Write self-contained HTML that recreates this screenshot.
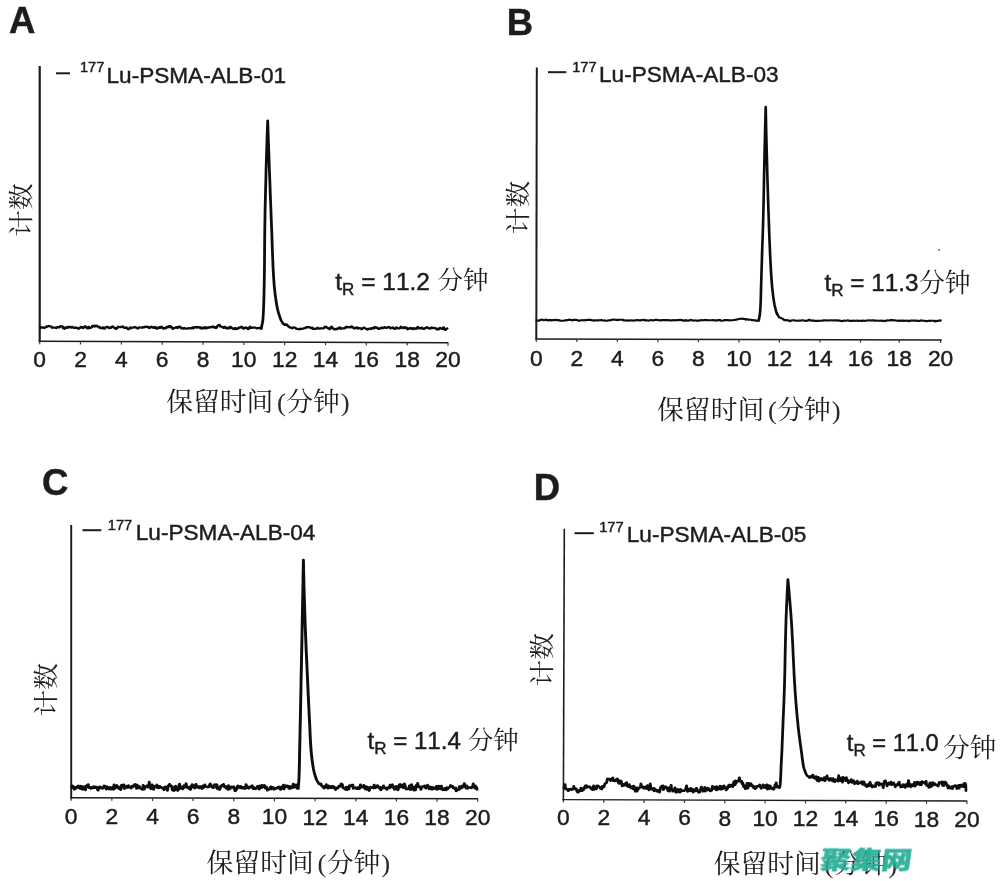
<!DOCTYPE html>
<html lang="zh-CN">
<head>
<meta charset="utf-8">
<title>保留时间 (分钟)</title>
<style>
html,body{margin:0;padding:0;background:#fff;}
body{width:1000px;height:881px;overflow:hidden;position:relative;}
svg{position:absolute;left:0;top:0;display:block;}
text{fill:#1c1c1c;stroke:#1c1c1c;stroke-width:0.45px;font-kerning:none;}
.lat{font-family:"Liberation Sans", "Noto Sans CJK SC", sans-serif;}
.cjk{font-family:"Liberation Serif", "Noto Serif CJK SC", serif;font-weight:400;stroke:none;}
.ttl{font-family:"Liberation Sans", "Noto Sans CJK SC", sans-serif;font-weight:700;font-size:36.5px;}
.tick{font-family:"Liberation Sans", "Noto Sans CJK SC", sans-serif;font-size:22.8px;text-anchor:middle;}
.leg{font-family:"Liberation Sans", "Noto Sans CJK SC", sans-serif;font-size:22.6px;}
.sup{font-family:"Liberation Sans", "Noto Sans CJK SC", sans-serif;font-size:14.6px;}
.tr{font-family:"Liberation Sans", "Noto Sans CJK SC", sans-serif;}
.sub{font-family:"Liberation Sans", "Noto Sans CJK SC", sans-serif;font-size:17px;}
.xl{font-size:26px;text-anchor:middle;}
.par{fill:#2a2a2a;}
.yl{font-size:25.5px;text-anchor:middle;}
.ax{stroke:#1c1c1c;stroke-width:1.45;fill:none;}
.ay{stroke:#1c1c1c;fill:none;}
.tk{stroke:#3a3a3a;stroke-width:1.2;fill:none;}
.tr-line{stroke:#111;fill:none;stroke-linejoin:round;stroke-linecap:round;}
.wm{font-family:"Liberation Sans","Noto Sans CJK SC",sans-serif;font-weight:900;font-size:24px;fill:#2bb098;stroke:#2bb098;stroke-width:0.5px;}
</style>
</head>
<body>
<svg width="1000" height="881" viewBox="0 0 1000 881">
<defs><filter id="soft" x="-2%" y="-2%" width="104%" height="104%"><feGaussianBlur stdDeviation="0.5"/></filter></defs>
<rect width="1000" height="881" fill="#ffffff"/>

<g id="panel-A" filter="url(#soft)">
<text class="ttl" x="9" y="33.2">A</text>
<path class="ay" stroke-width="2.2" d="M39.7,66 L39.7,342.0"/>
<path class="ax" d="M38.7,341.30 L448.3,342.69"/>
<path class="tk" d="M39.7,341.30 v3.0 M80.5,341.44 v3.0 M121.4,341.58 v3.0 M162.2,341.72 v3.0 M203.0,341.86 v3.0 M243.8,341.99 v3.0 M284.7,342.13 v3.0 M325.5,342.27 v3.0 M366.3,342.41 v3.0 M407.2,342.55 v3.0 M448.0,342.69 v3.0 "/>
<text class="tick" x="39.7" y="366.90">0</text>
<text class="tick" x="80.5" y="366.94">2</text>
<text class="tick" x="121.4" y="366.98">4</text>
<text class="tick" x="162.2" y="367.02">6</text>
<text class="tick" x="203.0" y="367.06">8</text>
<text class="tick" x="243.8" y="367.10">10</text>
<text class="tick" x="284.7" y="367.14">12</text>
<text class="tick" x="325.5" y="367.19">14</text>
<text class="tick" x="366.3" y="367.23">16</text>
<text class="tick" x="407.2" y="367.27">18</text>
<text class="tick" x="448.0" y="367.31">20</text>
<path d="M56,73.3 H70" stroke="#1c1c1c" stroke-width="2" fill="none"/>
<text class="sup" x="80" y="72.3">177</text>
<text class="leg" x="106.5" y="82.7">Lu-PSMA-ALB-01</text>
<text class="tr" font-size="24.5" x="335.3" y="289.6">t<tspan class="sub" dy="5.2">R</tspan><tspan dy="-5.2"> = 11.2</tspan><tspan class="cjk" font-size="25.5" dx="7.5" dy="-0.6">分钟</tspan></text>
<text class="cjk xl" transform="translate(258,410.8) scale(1.03,1)" x="0" y="0">保留时间<tspan class="par" dx="-2.8"> (</tspan><tspan dx="0.3">分钟</tspan><tspan class="par" dx="1">)</tspan></text>
<text class="cjk yl" transform="translate(21.0,210) rotate(-90) scale(1.05,1)" x="0" y="9.2">计数</text>
<path class="tr-line" stroke-width="2.2" transform="scale(1.27,1)" d="M31.65,328.0 L32.13,326.9 L32.60,327.7 L33.07,327.3 L33.54,327.6 L34.02,327.4 L34.49,327.8 L34.96,328.0 L35.43,327.5 L35.91,327.3 L36.38,326.9 L36.85,326.3 L37.32,326.7 L37.80,326.3 L38.27,325.9 L38.74,326.1 L39.21,326.1 L39.69,326.5 L40.16,326.5 L40.63,326.8 L41.10,327.8 L41.57,327.6 L42.05,327.7 L42.52,327.6 L42.99,327.6 L43.46,327.6 L43.94,327.7 L44.41,328.0 L44.88,327.5 L45.35,326.8 L45.83,327.4 L46.30,327.1 L46.77,327.4 L47.24,326.5 L47.72,326.1 L48.19,326.4 L48.66,326.5 L49.13,326.4 L49.61,327.6 L50.08,328.4 L50.55,327.5 L51.02,328.8 L51.50,327.9 L51.97,327.8 L52.44,327.6 L52.91,326.9 L53.39,327.8 L53.86,327.4 L54.33,326.8 L54.80,327.0 L55.28,326.9 L55.75,327.4 L56.22,327.7 L56.69,326.8 L57.17,327.2 L57.64,327.4 L58.11,327.8 L58.58,328.0 L59.06,327.4 L59.53,327.4 L60.00,328.0 L60.47,327.8 L60.94,327.9 L61.42,328.5 L61.89,328.9 L62.36,328.2 L62.83,327.7 L63.31,327.8 L63.78,327.0 L64.25,327.4 L64.72,327.0 L65.20,328.1 L65.67,327.7 L66.14,327.6 L66.61,327.4 L67.09,326.2 L67.56,327.0 L68.03,327.5 L68.50,327.4 L68.98,328.4 L69.45,328.3 L69.92,326.9 L70.39,327.6 L70.87,328.1 L71.34,327.9 L71.81,327.4 L72.28,327.1 L72.76,326.0 L73.23,326.3 L73.70,326.4 L74.17,325.6 L74.65,326.6 L75.12,326.3 L75.59,325.7 L76.06,326.1 L76.54,325.9 L77.01,326.7 L77.48,326.6 L77.95,327.4 L78.43,327.0 L78.90,327.9 L79.37,328.1 L79.84,328.2 L80.31,328.3 L80.79,327.4 L81.26,327.4 L81.73,327.7 L82.20,328.7 L82.68,328.1 L83.15,327.3 L83.62,327.3 L84.09,326.8 L84.57,326.8 L85.04,327.1 L85.51,327.8 L85.98,328.1 L86.46,327.7 L86.93,328.0 L87.40,327.7 L87.87,326.9 L88.35,326.8 L88.82,326.5 L89.29,327.0 L89.76,327.7 L90.24,327.9 L90.71,328.5 L91.18,328.1 L91.65,328.9 L92.13,327.9 L92.60,327.5 L93.07,326.6 L93.54,327.0 L94.02,327.1 L94.49,327.1 L94.96,327.2 L95.43,326.7 L95.91,326.9 L96.38,326.8 L96.85,326.5 L97.32,327.5 L97.80,327.8 L98.27,328.0 L98.74,328.0 L99.21,327.3 L99.69,327.6 L100.16,328.2 L100.63,329.1 L101.10,329.2 L101.57,328.9 L102.05,328.6 L102.52,327.5 L102.99,327.8 L103.46,328.1 L103.94,327.5 L104.41,327.5 L104.88,327.6 L105.35,327.3 L105.83,327.3 L106.30,327.1 L106.77,327.2 L107.24,327.9 L107.72,327.8 L108.19,328.2 L108.66,328.5 L109.13,327.7 L109.61,327.4 L110.08,327.4 L110.55,327.5 L111.02,327.6 L111.50,327.6 L111.97,327.8 L112.44,327.0 L112.91,327.1 L113.39,327.4 L113.86,326.9 L114.33,326.6 L114.80,326.7 L115.28,326.9 L115.75,327.1 L116.22,326.7 L116.69,327.0 L117.17,327.8 L117.64,327.5 L118.11,327.9 L118.58,327.3 L119.06,326.7 L119.53,327.1 L120.00,327.1 L120.47,327.7 L120.94,327.1 L121.42,327.9 L121.89,327.6 L122.36,327.0 L122.83,328.3 L123.31,328.7 L123.78,327.9 L124.25,328.5 L124.72,327.5 L125.20,328.0 L125.67,327.2 L126.14,327.8 L126.61,327.0 L127.09,326.6 L127.56,327.5 L128.03,328.2 L128.50,327.8 L128.98,328.7 L129.45,328.4 L129.92,327.9 L130.39,327.9 L130.87,328.1 L131.34,326.9 L131.81,327.1 L132.28,326.8 L132.76,326.2 L133.23,327.2 L133.70,327.1 L134.17,326.0 L134.65,327.0 L135.12,327.1 L135.59,327.9 L136.06,328.9 L136.54,328.4 L137.01,328.1 L137.48,327.9 L137.95,327.5 L138.43,327.6 L138.90,327.1 L139.37,327.2 L139.84,328.1 L140.31,327.2 L140.79,327.1 L141.26,326.5 L141.73,327.0 L142.20,327.0 L142.68,328.4 L143.15,328.0 L143.62,328.5 L144.09,328.3 L144.57,328.8 L145.04,328.0 L145.51,328.5 L145.98,328.3 L146.46,328.5 L146.93,328.7 L147.40,328.6 L147.87,328.6 L148.35,328.1 L148.82,328.4 L149.29,328.3 L149.76,328.0 L150.24,328.0 L150.71,328.0 L151.18,328.5 L151.65,327.4 L152.13,327.6 L152.60,328.1 L153.07,327.1 L153.54,327.2 L154.02,327.1 L154.49,327.3 L154.96,327.8 L155.43,326.9 L155.91,327.4 L156.38,327.5 L156.85,327.1 L157.32,327.2 L157.80,328.3 L158.27,328.1 L158.74,327.7 L159.21,328.6 L159.69,327.7 L160.16,328.4 L160.63,328.2 L161.10,327.2 L161.57,327.3 L162.05,328.3 L162.52,327.7 L162.99,328.2 L163.46,327.3 L163.94,327.9 L164.41,327.6 L164.88,327.3 L165.35,327.1 L165.83,327.5 L166.30,326.8 L166.77,327.1 L167.24,326.7 L167.72,327.1 L168.19,326.5 L168.66,327.5 L169.13,327.0 L169.61,327.2 L170.08,328.1 L170.55,327.6 L171.02,326.3 L171.50,325.5 L171.97,325.4 L172.44,324.8 L172.91,325.1 L173.39,326.4 L173.86,326.6 L174.33,326.8 L174.80,327.0 L175.28,327.3 L175.75,327.8 L176.22,327.4 L176.69,326.7 L177.17,327.0 L177.64,328.2 L178.11,327.8 L178.58,327.6 L179.06,328.5 L179.53,328.3 L180.00,328.3 L180.47,328.3 L180.94,326.9 L181.42,326.8 L181.89,327.4 L182.36,327.8 L182.83,328.2 L183.31,328.7 L183.78,328.7 L184.25,329.0 L184.72,328.1 L185.20,328.0 L185.67,329.0 L186.14,328.3 L186.61,328.9 L187.09,328.8 L187.56,328.2 L188.03,327.6 L188.50,327.8 L188.98,327.5 L189.45,327.2 L189.92,326.7 L190.39,327.3 L190.87,328.0 L191.34,327.7 L191.81,328.7 L192.28,328.4 L192.76,327.9 L193.23,327.4 L193.70,327.8 L194.17,327.8 L194.65,327.8 L195.12,329.1 L195.59,329.1 L196.06,328.4 L196.54,327.3 L197.01,326.6 L197.48,327.8 L197.95,327.7 L198.43,328.0 L198.90,327.8 L199.37,327.4 L199.84,327.7 L200.31,327.7 L200.79,327.6 L201.26,327.7 L201.73,327.9 L202.20,328.4 L202.68,328.1 L203.15,328.2 L203.62,328.1 L204.09,328.0 L204.57,328.0 L205.04,327.4 L205.51,328.9 L205.98,328.2 L205.98,326.5 L206.18,325.5 L206.37,324.5 L206.54,323.5 L206.70,322.5 L206.83,321.5 L206.93,320.5 L207.00,319.5 L207.07,318.5 L207.13,317.5 L207.19,316.5 L207.24,315.5 L207.29,314.5 L207.34,313.5 L207.38,312.5 L207.41,311.5 L207.45,310.5 L207.48,309.5 L207.51,308.5 L207.54,307.5 L207.57,306.5 L207.60,305.5 L207.63,304.5 L207.66,303.5 L207.69,302.5 L207.71,301.5 L207.74,300.5 L207.76,299.5 L207.79,298.5 L207.81,297.5 L207.83,296.5 L207.85,295.5 L207.88,294.5 L207.90,293.5 L207.92,292.5 L207.93,291.5 L207.95,290.5 L207.97,289.5 L207.99,288.5 L208.01,287.5 L208.02,286.5 L208.04,285.5 L208.05,284.5 L208.07,283.5 L208.08,282.5 L208.09,281.5 L208.10,280.5 L208.12,279.5 L208.13,278.5 L208.14,277.5 L208.15,276.5 L208.16,275.5 L208.17,274.5 L208.18,273.5 L208.19,272.5 L208.20,271.5 L208.20,270.5 L208.21,269.5 L208.22,268.5 L208.23,267.5 L208.23,266.5 L208.24,265.5 L208.25,264.5 L208.26,263.5 L208.26,262.5 L208.27,261.5 L208.28,260.5 L208.28,259.5 L208.29,258.5 L208.29,257.5 L208.30,256.5 L208.31,255.5 L208.31,254.5 L208.32,253.5 L208.32,252.5 L208.33,251.5 L208.33,250.5 L208.34,249.5 L208.35,248.5 L208.35,247.5 L208.36,246.5 L208.36,245.5 L208.37,244.5 L208.38,243.5 L208.38,242.5 L208.39,241.5 L208.40,240.5 L208.40,239.5 L208.41,238.5 L208.42,237.5 L208.43,236.5 L208.43,235.5 L208.44,234.5 L208.45,233.5 L208.46,232.5 L208.47,231.5 L208.48,230.5 L208.49,229.5 L208.50,228.5 L208.51,227.5 L208.52,226.5 L208.53,225.5 L208.54,224.5 L208.56,223.5 L208.57,222.5 L208.58,221.5 L208.59,220.5 L208.61,219.5 L208.62,218.5 L208.64,217.5 L208.65,216.5 L208.66,215.5 L208.68,214.5 L208.70,213.5 L208.71,212.5 L208.73,211.5 L208.74,210.5 L208.76,209.5 L208.78,208.5 L208.79,207.5 L208.81,206.5 L208.83,205.5 L208.85,204.5 L208.86,203.5 L208.88,202.5 L208.90,201.5 L208.92,200.5 L208.94,199.5 L208.95,198.5 L208.97,197.5 L208.99,196.5 L209.01,195.5 L209.03,194.5 L209.05,193.5 L209.07,192.5 L209.09,191.5 L209.11,190.5 L209.13,189.5 L209.14,188.5 L209.16,187.5 L209.18,186.5 L209.20,185.5 L209.22,184.5 L209.24,183.5 L209.26,182.5 L209.28,181.5 L209.30,180.5 L209.32,179.5 L209.34,178.5 L209.36,177.5 L209.38,176.5 L209.40,175.5 L209.43,174.5 L209.45,173.5 L209.47,172.5 L209.49,171.5 L209.51,170.5 L209.53,169.5 L209.55,168.5 L209.58,167.5 L209.60,166.5 L209.62,165.5 L209.64,164.5 L209.67,163.5 L209.69,162.5 L209.71,161.5 L209.74,160.5 L209.76,159.5 L209.78,158.5 L209.81,157.5 L209.83,156.5 L209.85,155.5 L209.88,154.5 L209.90,153.5 L209.93,152.5 L209.95,151.5 L209.98,150.5 L210.00,149.5 L210.03,148.5 L210.05,147.5 L210.08,146.5 L210.10,145.5 L210.13,144.5 L210.15,143.5 L210.18,142.5 L210.21,141.5 L210.23,140.5 L210.26,139.5 L210.29,138.5 L210.31,137.5 L210.34,136.5 L210.37,135.5 L210.39,134.5 L210.42,133.5 L210.45,132.5 L210.48,131.5 L210.50,130.5 L210.53,129.5 L210.56,128.5 L210.59,127.5 L210.61,126.5 L210.64,125.5 L210.67,124.5 L210.70,123.5 L210.73,122.5 L210.76,121.5 L210.79,120.5 L210.81,121.5 L210.84,122.5 L210.87,123.5 L210.89,124.5 L210.92,125.5 L210.95,126.5 L210.97,127.5 L211.00,128.5 L211.03,129.5 L211.05,130.5 L211.08,131.5 L211.11,132.5 L211.13,133.5 L211.16,134.5 L211.19,135.5 L211.21,136.5 L211.24,137.5 L211.27,138.5 L211.30,139.5 L211.32,140.5 L211.35,141.5 L211.38,142.5 L211.40,143.5 L211.43,144.5 L211.46,145.5 L211.49,146.5 L211.51,147.5 L211.54,148.5 L211.57,149.5 L211.60,150.5 L211.62,151.5 L211.65,152.5 L211.68,153.5 L211.71,154.5 L211.73,155.5 L211.76,156.5 L211.79,157.5 L211.82,158.5 L211.85,159.5 L211.87,160.5 L211.90,161.5 L211.93,162.5 L211.96,163.5 L211.99,164.5 L212.01,165.5 L212.04,166.5 L212.07,167.5 L212.10,168.5 L212.13,169.5 L212.16,170.5 L212.18,171.5 L212.21,172.5 L212.24,173.5 L212.27,174.5 L212.30,175.5 L212.33,176.5 L212.35,177.5 L212.38,178.5 L212.41,179.5 L212.44,180.5 L212.47,181.5 L212.50,182.5 L212.53,183.5 L212.56,184.5 L212.58,185.5 L212.61,186.5 L212.64,187.5 L212.67,188.5 L212.70,189.5 L212.73,190.5 L212.76,191.5 L212.79,192.5 L212.82,193.5 L212.85,194.5 L212.88,195.5 L212.90,196.5 L212.93,197.5 L212.96,198.5 L212.99,199.5 L213.02,200.5 L213.05,201.5 L213.08,202.5 L213.11,203.5 L213.14,204.5 L213.17,205.5 L213.20,206.5 L213.23,207.5 L213.26,208.5 L213.29,209.5 L213.32,210.5 L213.35,211.5 L213.38,212.5 L213.41,213.5 L213.44,214.5 L213.47,215.5 L213.50,216.5 L213.53,217.5 L213.56,218.5 L213.59,219.5 L213.62,220.5 L213.66,221.5 L213.69,222.5 L213.72,223.5 L213.75,224.5 L213.78,225.5 L213.81,226.5 L213.84,227.5 L213.87,228.5 L213.90,229.5 L213.94,230.5 L213.96,231.5 L213.99,232.5 L214.02,233.5 L214.05,234.5 L214.08,235.5 L214.11,236.5 L214.14,237.5 L214.16,238.5 L214.19,239.5 L214.22,240.5 L214.25,241.5 L214.27,242.5 L214.30,243.5 L214.33,244.5 L214.35,245.5 L214.38,246.5 L214.41,247.5 L214.43,248.5 L214.46,249.5 L214.49,250.5 L214.52,251.5 L214.55,252.5 L214.58,253.5 L214.60,254.5 L214.63,255.5 L214.66,256.5 L214.69,257.5 L214.72,258.5 L214.76,259.5 L214.79,260.5 L214.82,261.5 L214.85,262.5 L214.89,263.5 L214.92,264.5 L214.96,265.5 L215.00,266.5 L215.03,267.5 L215.07,268.5 L215.11,269.5 L215.15,270.5 L215.19,271.5 L215.24,272.5 L215.28,273.5 L215.32,274.5 L215.37,275.5 L215.42,276.5 L215.46,277.5 L215.51,278.5 L215.56,279.5 L215.62,280.5 L215.67,281.5 L215.73,282.5 L215.79,283.5 L215.86,284.5 L215.92,285.5 L216.00,286.5 L216.07,287.5 L216.15,288.5 L216.23,289.5 L216.31,290.5 L216.40,291.5 L216.49,292.5 L216.58,293.5 L216.68,294.5 L216.78,295.5 L216.89,296.5 L216.99,297.5 L217.10,298.5 L217.22,299.5 L217.34,300.5 L217.46,301.5 L217.58,302.5 L217.71,303.5 L217.84,304.5 L217.98,305.5 L218.12,306.5 L218.26,307.5 L218.42,308.5 L218.60,309.5 L218.80,310.5 L219.01,311.5 L219.24,312.5 L219.47,313.5 L219.72,314.5 L219.98,315.5 L220.24,316.5 L220.51,317.5 L220.78,318.5 L221.06,319.5 L221.34,320.5 L221.81,321.4 L222.28,322.4 L222.76,323.4 L223.23,324.1 L223.70,324.5 L224.17,324.8 L224.65,324.2 L225.12,324.8 L225.59,324.5 L226.06,324.8 L226.54,325.6 L227.01,326.2 L227.48,326.8 L227.95,327.3 L228.43,327.6 L228.90,327.3 L229.37,328.0 L229.84,328.0 L230.31,328.4 L230.71,327.6 L231.18,327.4 L231.65,327.4 L232.13,327.6 L232.60,327.9 L233.07,328.4 L233.54,329.0 L234.02,328.9 L234.49,328.8 L234.96,329.2 L235.43,329.1 L235.91,329.3 L236.38,328.7 L236.85,328.8 L237.32,329.0 L237.80,329.0 L238.27,328.7 L238.74,328.5 L239.21,328.3 L239.69,328.1 L240.16,328.1 L240.63,327.7 L241.10,327.1 L241.57,327.6 L242.05,327.0 L242.52,327.0 L242.99,327.1 L243.46,327.0 L243.94,327.5 L244.41,327.8 L244.88,328.1 L245.35,328.1 L245.83,327.6 L246.30,328.9 L246.77,329.0 L247.24,329.0 L247.72,328.6 L248.19,329.1 L248.66,328.8 L249.13,328.6 L249.61,328.5 L250.08,327.7 L250.55,328.5 L251.02,328.7 L251.50,328.4 L251.97,328.6 L252.44,328.5 L252.91,328.2 L253.39,328.5 L253.86,328.5 L254.33,328.5 L254.80,328.0 L255.28,327.9 L255.75,326.8 L256.22,327.3 L256.69,326.8 L257.17,327.1 L257.64,327.7 L258.11,328.1 L258.58,328.6 L259.06,328.8 L259.53,329.2 L260.00,327.9 L260.47,327.8 L260.94,326.6 L261.42,327.2 L261.89,328.2 L262.36,328.5 L262.83,329.1 L263.31,329.4 L263.78,329.0 L264.25,329.5 L264.72,329.3 L265.20,328.7 L265.67,329.1 L266.14,328.4 L266.61,328.5 L267.09,327.5 L267.56,328.3 L268.03,327.7 L268.50,328.8 L268.98,328.4 L269.45,328.3 L269.92,328.3 L270.39,328.4 L270.87,328.5 L271.34,328.4 L271.81,327.6 L272.28,327.2 L272.76,326.7 L273.23,327.3 L273.70,327.3 L274.17,326.9 L274.65,327.1 L275.12,327.4 L275.59,327.3 L276.06,326.9 L276.54,326.8 L277.01,326.3 L277.48,327.5 L277.95,327.1 L278.43,327.9 L278.90,328.2 L279.37,328.6 L279.84,328.1 L280.31,327.7 L280.79,327.7 L281.26,327.3 L281.73,328.6 L282.20,327.9 L282.68,328.1 L283.15,328.3 L283.62,328.5 L284.09,328.3 L284.57,329.1 L285.04,329.1 L285.51,328.0 L285.98,328.0 L286.46,327.5 L286.93,328.1 L287.40,328.3 L287.87,328.5 L288.35,328.9 L288.82,329.0 L289.29,329.6 L289.76,328.9 L290.24,328.9 L290.71,328.9 L291.18,328.6 L291.65,328.3 L292.13,329.0 L292.60,328.2 L293.07,328.2 L293.54,328.1 L294.02,328.6 L294.49,327.9 L294.96,326.9 L295.43,327.6 L295.91,327.9 L296.38,327.8 L296.85,327.5 L297.32,328.3 L297.80,328.8 L298.27,329.0 L298.74,328.7 L299.21,328.1 L299.69,328.3 L300.16,328.0 L300.63,327.4 L301.10,327.9 L301.57,328.2 L302.05,327.7 L302.52,327.3 L302.99,327.2 L303.46,327.6 L303.94,328.0 L304.41,327.7 L304.88,327.8 L305.35,327.3 L305.83,327.1 L306.30,326.9 L306.77,327.4 L307.24,328.2 L307.72,328.4 L308.19,327.8 L308.66,327.7 L309.13,327.3 L309.61,328.1 L310.08,328.1 L310.55,328.7 L311.02,328.9 L311.50,328.5 L311.97,327.4 L312.44,327.6 L312.91,328.1 L313.39,328.3 L313.86,328.3 L314.33,328.5 L314.80,328.3 L315.28,327.8 L315.75,326.7 L316.22,327.2 L316.69,328.0 L317.17,328.2 L317.64,327.5 L318.11,327.4 L318.58,327.1 L319.06,328.1 L319.53,327.4 L320.00,327.6 L320.47,328.2 L320.94,329.3 L321.42,328.5 L321.89,328.9 L322.36,328.5 L322.83,328.2 L323.31,327.9 L323.78,328.7 L324.25,328.3 L324.72,328.8 L325.20,329.1 L325.67,328.1 L326.14,328.3 L326.61,328.7 L327.09,328.5 L327.56,329.0 L328.03,328.6 L328.50,327.4 L328.98,326.9 L329.45,328.0 L329.92,328.2 L330.39,328.5 L330.87,328.3 L331.34,327.9 L331.81,328.3 L332.28,327.7 L332.76,328.7 L333.23,328.4 L333.70,328.8 L334.17,328.8 L334.65,328.2 L335.12,328.1 L335.59,327.7 L336.06,327.1 L336.54,327.6 L337.01,327.9 L337.48,327.9 L337.95,328.7 L338.43,328.5 L338.90,328.5 L339.37,328.0 L339.84,327.5 L340.31,328.1 L340.79,328.0 L341.26,327.9 L341.73,327.8 L342.20,328.0 L342.68,328.4 L343.15,328.6 L343.62,328.4 L344.09,329.5 L344.57,328.9 L345.04,329.4 L345.51,329.2 L345.98,328.9 L346.46,327.8 L346.93,328.5 L347.40,328.4 L347.87,328.8 L348.35,329.0 L348.82,328.1 L349.29,327.3 L349.76,328.8 L350.24,329.7 L350.71,329.9 L351.18,329.1 L351.65,328.8 L352.13,328.5"/>
</g>
<g id="panel-B" filter="url(#soft)">
<text class="ttl" x="506.8" y="35">B</text>
<path class="ay" stroke-width="2.0" d="M536.8,67.5 L536.3,339.59999999999997"/>
<path class="ax" d="M535.3,338.90 L941.8,339.91"/>
<path class="tk" d="M536.3,338.90 v3.0 M576.8,339.00 v3.0 M617.3,339.10 v3.0 M657.9,339.20 v3.0 M698.4,339.31 v3.0 M738.9,339.41 v3.0 M779.4,339.51 v3.0 M819.9,339.61 v3.0 M860.5,339.71 v3.0 M899.2,339.81 v3.0 M940.6,339.91 v3.0 "/>
<text class="tick" x="536.3" y="365.80">0</text>
<text class="tick" x="576.8" y="365.84">2</text>
<text class="tick" x="617.3" y="365.88">4</text>
<text class="tick" x="657.9" y="365.92">6</text>
<text class="tick" x="698.4" y="365.96">8</text>
<text class="tick" x="738.9" y="366.00">10</text>
<text class="tick" x="779.4" y="366.04">12</text>
<text class="tick" x="819.9" y="366.08">14</text>
<text class="tick" x="860.5" y="366.12">16</text>
<text class="tick" x="899.2" y="366.16">18</text>
<text class="tick" x="940.6" y="366.20">20</text>
<path d="M548,72.2 H566.3" stroke="#1c1c1c" stroke-width="2" fill="none"/>
<text class="sup" x="572.2" y="71.9">177</text>
<text class="leg" x="599" y="82.3">Lu-PSMA-ALB-03</text>
<text class="tr" font-size="24.3" x="824.4" y="290.8">t<tspan class="sub" dy="5.2">R</tspan><tspan dy="-5.2"> = 11.3</tspan><tspan class="cjk" font-size="25.8" dx="0.5" dy="1.0">分钟</tspan></text>
<text class="cjk xl" transform="translate(748.9,418.6) scale(1.03,1)" x="0" y="0">保留时间<tspan class="par" dx="-2.8"> (</tspan><tspan dx="0.3">分钟</tspan><tspan class="par" dx="1">)</tspan></text>
<text class="cjk yl" transform="translate(517.8,207.5) rotate(-90) scale(1.05,1)" x="0" y="9.2">计数</text>
<path class="tr-line" stroke-width="2.1" transform="scale(1.27,1)" d="M422.68,320.4 L423.23,320.5 L423.78,320.8 L424.33,320.5 L424.88,320.6 L425.43,320.0 L425.98,319.9 L426.54,319.6 L427.09,319.8 L427.64,320.0 L428.19,320.1 L428.74,320.1 L429.29,319.9 L429.84,319.9 L430.39,319.6 L430.94,320.3 L431.50,320.4 L432.05,320.3 L432.60,319.9 L433.15,320.4 L433.70,320.1 L434.25,320.4 L434.80,320.1 L435.35,320.1 L435.91,320.3 L436.46,320.2 L437.01,319.8 L437.56,319.9 L438.11,320.1 L438.66,319.9 L439.21,320.3 L439.76,320.0 L440.31,320.4 L440.87,320.5 L441.42,320.8 L441.97,320.8 L442.52,320.8 L443.07,320.8 L443.62,320.7 L444.17,320.7 L444.72,320.4 L445.28,320.4 L445.83,320.4 L446.38,320.1 L446.93,320.1 L447.48,319.9 L448.03,319.9 L448.58,319.6 L449.13,319.9 L449.69,320.1 L450.24,320.1 L450.79,320.1 L451.34,320.2 L451.89,319.7 L452.44,319.9 L452.99,319.9 L453.54,319.9 L454.09,319.9 L454.65,320.3 L455.20,320.4 L455.75,320.8 L456.30,320.8 L456.85,320.5 L457.40,320.3 L457.95,320.3 L458.50,320.3 L459.06,320.1 L459.61,320.4 L460.16,320.0 L460.71,320.2 L461.26,320.2 L461.81,320.1 L462.36,319.8 L462.91,319.8 L463.46,319.9 L464.02,320.0 L464.57,319.8 L465.12,319.9 L465.67,320.1 L466.22,320.5 L466.77,320.2 L467.32,320.5 L467.87,320.6 L468.43,320.2 L468.98,320.5 L469.53,320.5 L470.08,320.3 L470.63,320.4 L471.18,320.5 L471.73,320.2 L472.28,320.2 L472.83,320.0 L473.39,320.1 L473.94,320.3 L474.49,320.3 L475.04,320.6 L475.59,320.5 L476.14,320.4 L476.69,320.7 L477.24,320.7 L477.80,320.7 L478.35,320.6 L478.90,320.4 L479.45,320.3 L480.00,320.4 L480.55,320.3 L481.10,320.0 L481.65,319.9 L482.20,319.7 L482.76,319.5 L483.31,319.6 L483.86,319.8 L484.41,319.8 L484.96,319.9 L485.51,319.8 L486.06,320.0 L486.61,320.1 L487.17,319.8 L487.72,319.8 L488.27,319.7 L488.82,319.8 L489.37,319.8 L489.92,319.9 L490.47,319.9 L491.02,320.4 L491.57,320.2 L492.13,320.2 L492.68,320.4 L493.23,320.6 L493.78,320.6 L494.33,320.5 L494.88,320.3 L495.43,320.7 L495.98,320.6 L496.54,320.4 L497.09,320.3 L497.64,320.3 L498.19,320.6 L498.74,320.4 L499.29,320.6 L499.84,320.4 L500.39,320.4 L500.94,320.3 L501.50,320.1 L502.05,320.1 L502.60,320.3 L503.15,320.5 L503.70,320.3 L504.25,320.2 L504.80,320.4 L505.35,320.0 L505.91,320.0 L506.46,319.9 L507.01,320.1 L507.56,319.9 L508.11,320.4 L508.66,320.4 L509.21,320.2 L509.76,320.5 L510.31,320.5 L510.87,320.6 L511.42,320.4 L511.97,320.1 L512.52,320.1 L513.07,320.3 L513.62,320.3 L514.17,320.3 L514.72,320.5 L515.28,320.1 L515.83,319.8 L516.38,319.9 L516.93,319.9 L517.48,319.9 L518.03,320.2 L518.58,320.2 L519.13,320.1 L519.69,320.5 L520.24,320.5 L520.79,320.3 L521.34,320.1 L521.89,320.0 L522.44,320.1 L522.99,320.1 L523.54,320.0 L524.09,320.1 L524.65,320.1 L525.20,320.1 L525.75,320.3 L526.30,320.1 L526.85,320.4 L527.40,320.4 L527.95,320.5 L528.50,320.3 L529.06,320.4 L529.61,320.1 L530.16,320.3 L530.71,320.3 L531.26,320.4 L531.81,320.2 L532.36,320.3 L532.91,320.1 L533.46,320.2 L534.02,320.1 L534.57,320.2 L535.12,319.9 L535.67,320.0 L536.22,320.0 L536.77,319.9 L537.32,320.6 L537.87,320.6 L538.43,320.4 L538.98,320.7 L539.53,320.6 L540.08,320.1 L540.63,320.5 L541.18,320.6 L541.73,320.7 L542.28,320.5 L542.83,320.4 L543.39,320.3 L543.94,319.8 L544.49,320.1 L545.04,320.4 L545.59,320.4 L546.14,320.6 L546.69,320.6 L547.24,320.4 L547.80,320.5 L548.35,320.6 L548.90,320.6 L549.45,320.9 L550.00,320.6 L550.55,320.5 L551.10,320.4 L551.65,320.5 L552.20,320.1 L552.76,320.2 L553.31,320.3 L553.86,320.3 L554.41,320.1 L554.96,319.9 L555.51,320.1 L556.06,320.1 L556.61,320.0 L557.17,320.2 L557.72,320.2 L558.27,320.2 L558.82,320.2 L559.37,320.3 L559.92,320.2 L560.47,320.3 L561.02,320.1 L561.57,320.1 L562.13,320.5 L562.68,320.3 L563.23,320.4 L563.78,320.5 L564.33,320.4 L564.88,320.3 L565.43,320.4 L565.98,319.8 L566.54,320.2 L567.09,320.0 L567.64,320.6 L568.19,320.8 L568.74,320.8 L569.29,320.7 L569.84,320.4 L570.39,320.0 L570.94,320.2 L571.50,320.1 L572.05,320.2 L572.60,320.0 L573.15,320.0 L573.70,320.3 L574.25,320.4 L574.80,320.4 L575.35,320.3 L575.91,320.3 L576.46,320.2 L577.01,320.2 L577.56,320.0 L578.11,320.0 L578.66,319.9 L579.21,319.7 L579.76,319.8 L580.31,319.4 L580.87,319.3 L581.42,319.3 L581.97,319.1 L582.52,318.9 L583.07,318.7 L583.62,318.6 L584.17,318.8 L584.72,318.7 L585.28,319.0 L585.83,318.9 L586.38,319.1 L586.93,319.1 L587.48,319.6 L588.03,319.1 L588.58,319.4 L589.13,319.6 L589.69,319.5 L590.24,319.6 L590.79,319.7 L591.34,319.8 L591.89,320.1 L592.44,320.2 L592.99,320.1 L593.54,320.2 L594.09,320.5 L594.65,320.3 L595.20,320.5 L595.75,320.9 L596.30,320.6 L596.85,320.6 L597.40,320.8 L597.56,319.5 L597.72,318.5 L597.88,317.5 L598.03,316.5 L598.17,315.5 L598.29,314.5 L598.38,313.5 L598.46,312.5 L598.53,311.5 L598.59,310.5 L598.65,309.5 L598.70,308.5 L598.75,307.5 L598.79,306.5 L598.83,305.5 L598.87,304.5 L598.90,303.5 L598.93,302.5 L598.96,301.5 L598.99,300.5 L599.02,299.5 L599.04,298.5 L599.07,297.5 L599.09,296.5 L599.11,295.5 L599.13,294.5 L599.16,293.5 L599.18,292.5 L599.20,291.5 L599.22,290.5 L599.23,289.5 L599.25,288.5 L599.27,287.5 L599.29,286.5 L599.32,285.5 L599.34,284.5 L599.36,283.5 L599.38,282.5 L599.40,281.5 L599.43,280.5 L599.45,279.5 L599.47,278.5 L599.50,277.5 L599.52,276.5 L599.54,275.5 L599.57,274.5 L599.59,273.5 L599.61,272.5 L599.64,271.5 L599.66,270.5 L599.68,269.5 L599.71,268.5 L599.73,267.5 L599.75,266.5 L599.77,265.5 L599.80,264.5 L599.82,263.5 L599.85,262.5 L599.87,261.5 L599.89,260.5 L599.92,259.5 L599.94,258.5 L599.96,257.5 L599.99,256.5 L600.01,255.5 L600.04,254.5 L600.06,253.5 L600.09,252.5 L600.11,251.5 L600.14,250.5 L600.16,249.5 L600.19,248.5 L600.22,247.5 L600.24,246.5 L600.27,245.5 L600.29,244.5 L600.32,243.5 L600.35,242.5 L600.38,241.5 L600.40,240.5 L600.43,239.5 L600.46,238.5 L600.48,237.5 L600.51,236.5 L600.54,235.5 L600.56,234.5 L600.59,233.5 L600.61,232.5 L600.64,231.5 L600.67,230.5 L600.69,229.5 L600.72,228.5 L600.74,227.5 L600.77,226.5 L600.79,225.5 L600.82,224.5 L600.84,223.5 L600.86,222.5 L600.89,221.5 L600.91,220.5 L600.93,219.5 L600.95,218.5 L600.97,217.5 L600.99,216.5 L601.01,215.5 L601.03,214.5 L601.05,213.5 L601.07,212.5 L601.09,211.5 L601.11,210.5 L601.12,209.5 L601.14,208.5 L601.16,207.5 L601.18,206.5 L601.19,205.5 L601.21,204.5 L601.23,203.5 L601.24,202.5 L601.26,201.5 L601.27,200.5 L601.29,199.5 L601.30,198.5 L601.32,197.5 L601.33,196.5 L601.35,195.5 L601.36,194.5 L601.38,193.5 L601.39,192.5 L601.41,191.5 L601.42,190.5 L601.43,189.5 L601.45,188.5 L601.46,187.5 L601.48,186.5 L601.49,185.5 L601.51,184.5 L601.52,183.5 L601.54,182.5 L601.55,181.5 L601.57,180.5 L601.58,179.5 L601.60,178.5 L601.61,177.5 L601.63,176.5 L601.64,175.5 L601.66,174.5 L601.67,173.5 L601.69,172.5 L601.71,171.5 L601.72,170.5 L601.74,169.5 L601.76,168.5 L601.78,167.5 L601.79,166.5 L601.81,165.5 L601.83,164.5 L601.84,163.5 L601.86,162.5 L601.88,161.5 L601.90,160.5 L601.91,159.5 L601.93,158.5 L601.95,157.5 L601.97,156.5 L601.98,155.5 L602.00,154.5 L602.02,153.5 L602.04,152.5 L602.06,151.5 L602.07,150.5 L602.09,149.5 L602.11,148.5 L602.13,147.5 L602.15,146.5 L602.17,145.5 L602.18,144.5 L602.20,143.5 L602.22,142.5 L602.24,141.5 L602.26,140.5 L602.28,139.5 L602.29,138.5 L602.31,137.5 L602.33,136.5 L602.35,135.5 L602.37,134.5 L602.39,133.5 L602.41,132.5 L602.43,131.5 L602.45,130.5 L602.47,129.5 L602.48,128.5 L602.50,127.5 L602.52,126.5 L602.54,125.5 L602.56,124.5 L602.58,123.5 L602.60,122.5 L602.62,121.5 L602.64,120.5 L602.66,119.5 L602.68,118.5 L602.70,117.5 L602.72,116.5 L602.74,115.5 L602.76,114.5 L602.78,113.5 L602.80,112.5 L602.82,111.5 L602.84,110.5 L602.86,109.5 L602.88,108.5 L602.90,107.5 L602.91,106.9 L602.93,107.9 L602.94,108.9 L602.96,109.9 L602.98,110.9 L602.99,111.9 L603.01,112.9 L603.02,113.9 L603.04,114.9 L603.06,115.9 L603.07,116.9 L603.09,117.9 L603.11,118.9 L603.12,119.9 L603.14,120.9 L603.16,121.9 L603.17,122.9 L603.19,123.9 L603.21,124.9 L603.23,125.9 L603.24,126.9 L603.26,127.9 L603.28,128.9 L603.30,129.9 L603.32,130.9 L603.33,131.9 L603.35,132.9 L603.37,133.9 L603.39,134.9 L603.41,135.9 L603.43,136.9 L603.45,137.9 L603.46,138.9 L603.48,139.9 L603.50,140.9 L603.52,141.9 L603.54,142.9 L603.56,143.9 L603.58,144.9 L603.60,145.9 L603.62,146.9 L603.64,147.9 L603.66,148.9 L603.68,149.9 L603.70,150.9 L603.72,151.9 L603.74,152.9 L603.76,153.9 L603.78,154.9 L603.80,155.9 L603.82,156.9 L603.84,157.9 L603.86,158.9 L603.88,159.9 L603.90,160.9 L603.92,161.9 L603.94,162.9 L603.97,163.9 L603.99,164.9 L604.01,165.9 L604.03,166.9 L604.05,167.9 L604.07,168.9 L604.09,169.9 L604.11,170.9 L604.14,171.9 L604.16,172.9 L604.18,173.9 L604.20,174.9 L604.22,175.9 L604.25,176.9 L604.27,177.9 L604.29,178.9 L604.31,179.9 L604.34,180.9 L604.36,181.9 L604.38,182.9 L604.41,183.9 L604.43,184.9 L604.45,185.9 L604.48,186.9 L604.50,187.9 L604.52,188.9 L604.55,189.9 L604.57,190.9 L604.60,191.9 L604.62,192.9 L604.65,193.9 L604.67,194.9 L604.70,195.9 L604.72,196.9 L604.75,197.9 L604.77,198.9 L604.80,199.9 L604.82,200.9 L604.85,201.9 L604.87,202.9 L604.90,203.9 L604.93,204.9 L604.95,205.9 L604.98,206.9 L605.01,207.9 L605.03,208.9 L605.06,209.9 L605.09,210.9 L605.11,211.9 L605.14,212.9 L605.17,213.9 L605.19,214.9 L605.22,215.9 L605.25,216.9 L605.28,217.9 L605.30,218.9 L605.33,219.9 L605.36,220.9 L605.39,221.9 L605.41,222.9 L605.44,223.9 L605.47,224.9 L605.50,225.9 L605.53,226.9 L605.55,227.9 L605.58,228.9 L605.61,229.9 L605.64,230.9 L605.67,231.9 L605.70,232.9 L605.73,233.9 L605.76,234.9 L605.79,235.9 L605.82,236.9 L605.85,237.9 L605.88,238.9 L605.91,239.9 L605.94,240.9 L605.97,241.9 L606.00,242.9 L606.04,243.9 L606.07,244.9 L606.10,245.9 L606.13,246.9 L606.17,247.9 L606.20,248.9 L606.24,249.9 L606.27,250.9 L606.31,251.9 L606.34,252.9 L606.38,253.9 L606.42,254.9 L606.45,255.9 L606.49,256.9 L606.53,257.9 L606.57,258.9 L606.60,259.9 L606.64,260.9 L606.68,261.9 L606.72,262.9 L606.76,263.9 L606.80,264.9 L606.84,265.9 L606.89,266.9 L606.93,267.9 L606.97,268.9 L607.02,269.9 L607.06,270.9 L607.11,271.9 L607.16,272.9 L607.21,273.9 L607.26,274.9 L607.31,275.9 L607.36,276.9 L607.41,277.9 L607.47,278.9 L607.53,279.9 L607.59,280.9 L607.65,281.9 L607.71,282.9 L607.77,283.9 L607.84,284.9 L607.91,285.9 L607.98,286.9 L608.06,287.9 L608.14,288.9 L608.22,289.9 L608.31,290.9 L608.39,291.9 L608.48,292.9 L608.58,293.9 L608.68,294.9 L608.78,295.9 L608.88,296.9 L608.99,297.9 L609.10,298.9 L609.22,299.9 L609.34,300.9 L609.46,301.9 L609.59,302.9 L609.73,303.9 L609.87,304.9 L610.04,305.9 L610.22,306.9 L610.41,307.9 L610.61,308.9 L610.82,309.9 L611.03,310.9 L611.25,311.9 L611.47,312.9 L611.50,313.0 L612.05,314.3 L612.60,315.5 L613.15,316.5 L613.70,317.3 L614.25,317.7 L614.80,318.0 L615.35,318.3 L615.91,318.6 L616.46,318.9 L617.01,319.5 L617.56,320.1 L618.11,320.2 L618.66,320.1 L619.21,320.1 L619.76,320.4 L620.31,320.4 L620.87,320.3 L621.42,320.7 L621.97,321.2 L622.52,320.7 L623.07,320.7 L623.62,320.2 L624.17,320.2 L624.72,320.2 L625.28,320.3 L625.83,320.2 L625.98,320.6 L626.54,320.8 L627.09,320.8 L627.64,320.7 L628.19,320.6 L628.74,320.7 L629.29,320.6 L629.84,320.6 L630.39,320.6 L630.94,320.4 L631.50,320.2 L632.05,320.2 L632.60,320.4 L633.15,320.6 L633.70,320.8 L634.25,320.7 L634.80,320.9 L635.35,320.7 L635.91,320.4 L636.46,320.4 L637.01,319.9 L637.56,319.9 L638.11,320.3 L638.66,320.6 L639.21,320.5 L639.76,320.7 L640.31,320.4 L640.87,320.7 L641.42,320.9 L641.97,320.9 L642.52,321.0 L643.07,320.9 L643.62,320.9 L644.17,320.9 L644.72,321.0 L645.28,320.8 L645.83,320.8 L646.38,320.8 L646.93,320.7 L647.48,320.6 L648.03,320.7 L648.58,320.4 L649.13,320.3 L649.69,320.4 L650.24,320.4 L650.79,320.5 L651.34,320.5 L651.89,320.4 L652.44,320.5 L652.99,320.5 L653.54,320.5 L654.09,320.3 L654.65,320.3 L655.20,320.3 L655.75,320.5 L656.30,320.5 L656.85,320.4 L657.40,320.3 L657.95,320.5 L658.50,320.4 L659.06,320.3 L659.61,320.5 L660.16,320.6 L660.71,320.4 L661.26,320.8 L661.81,320.9 L662.36,320.9 L662.91,321.2 L663.46,321.0 L664.02,320.9 L664.57,320.6 L665.12,320.6 L665.67,320.7 L666.22,320.7 L666.77,320.6 L667.32,320.4 L667.87,320.4 L668.43,320.7 L668.98,320.7 L669.53,321.0 L670.08,321.0 L670.63,320.8 L671.18,320.9 L671.73,320.6 L672.28,320.9 L672.83,320.9 L673.39,320.7 L673.94,320.7 L674.49,320.6 L675.04,320.8 L675.59,320.9 L676.14,320.7 L676.69,320.8 L677.24,320.9 L677.80,320.9 L678.35,320.8 L678.90,320.9 L679.45,320.7 L680.00,320.6 L680.55,320.9 L681.10,320.8 L681.65,320.8 L682.20,320.6 L682.76,320.5 L683.31,320.5 L683.86,320.4 L684.41,320.4 L684.96,320.3 L685.51,320.6 L686.06,320.4 L686.61,320.5 L687.17,320.3 L687.72,320.3 L688.27,320.7 L688.82,320.6 L689.37,320.8 L689.92,320.8 L690.47,320.6 L691.02,320.8 L691.57,320.8 L692.13,320.7 L692.68,320.7 L693.23,320.6 L693.78,320.7 L694.33,321.0 L694.88,320.8 L695.43,320.8 L695.98,320.8 L696.54,321.1 L697.09,321.0 L697.64,320.8 L698.19,320.5 L698.74,320.4 L699.29,320.5 L699.84,320.5 L700.39,320.4 L700.94,320.5 L701.50,320.1 L702.05,319.9 L702.60,320.1 L703.15,320.4 L703.70,320.4 L704.25,320.5 L704.80,320.3 L705.35,320.5 L705.91,320.5 L706.46,320.7 L707.01,320.7 L707.56,321.0 L708.11,320.7 L708.66,320.6 L709.21,320.8 L709.76,321.0 L710.31,320.4 L710.87,320.6 L711.42,320.9 L711.97,321.0 L712.52,320.7 L713.07,320.8 L713.62,320.6 L714.17,320.9 L714.72,320.7 L715.28,320.8 L715.83,321.1 L716.38,320.7 L716.93,320.5 L717.48,320.6 L718.03,320.5 L718.58,320.5 L719.13,320.7 L719.69,320.5 L720.24,320.5 L720.79,320.7 L721.34,320.6 L721.89,320.9 L722.44,320.9 L722.99,320.9 L723.54,320.9 L724.09,320.9 L724.65,320.7 L725.20,320.4 L725.75,320.5 L726.30,320.6 L726.85,320.7 L727.40,320.8 L727.95,320.8 L728.50,321.0 L729.06,321.0 L729.61,321.2 L730.16,321.1 L730.71,320.9 L731.26,320.8 L731.81,320.7 L732.36,321.0 L732.91,320.8 L733.46,320.8 L734.02,320.8 L734.57,320.8 L735.12,320.7 L735.67,320.9 L736.22,321.4 L736.77,320.9 L737.32,321.2 L737.87,320.8 L738.43,320.8 L738.98,320.9 L739.53,320.6 L740.08,320.8 L740.63,320.4"/>
</g>
<g id="panel-C" filter="url(#soft)">
<text class="ttl" x="42" y="495">C</text>
<path class="ay" stroke-width="1.9" d="M71.2,525 L71.2,798.4000000000001"/>
<path class="ax" d="M70.2,797.70 L478.0,798.80"/>
<path class="tk" d="M71.2,797.70 v3.0 M111.8,797.81 v3.0 M152.5,797.92 v3.0 M193.1,798.03 v3.0 M233.8,798.14 v3.0 M274.4,798.25 v3.0 M315.1,798.36 v3.0 M355.8,798.47 v3.0 M396.4,798.58 v3.0 M437.0,798.69 v3.0 M477.7,798.80 v3.0 "/>
<text class="tick" x="71.2" y="823.60">0</text>
<text class="tick" x="111.8" y="823.76">2</text>
<text class="tick" x="152.5" y="823.93">4</text>
<text class="tick" x="193.1" y="824.09">6</text>
<text class="tick" x="233.8" y="824.25">8</text>
<text class="tick" x="274.4" y="824.41">10</text>
<text class="tick" x="315.1" y="824.58">12</text>
<text class="tick" x="355.8" y="824.74">14</text>
<text class="tick" x="396.4" y="824.90">16</text>
<text class="tick" x="437.0" y="825.06">18</text>
<text class="tick" x="477.7" y="825.23">20</text>
<path d="M82.5,530.2 H101.3" stroke="#1c1c1c" stroke-width="2" fill="none"/>
<text class="sup" x="107.8" y="529.9">177</text>
<text class="leg" x="135.8" y="540.3">Lu-PSMA-ALB-04</text>
<text class="tr" font-size="24.1" x="367.5" y="749.0">t<tspan class="sub" dy="5.2">R</tspan><tspan dy="-5.2"> = 11.4</tspan><tspan class="cjk" font-size="25.5" dx="6.8" dy="0.3">分钟</tspan></text>
<text class="cjk xl" transform="translate(298.4,871.7) scale(1.03,1)" x="0" y="0">保留时间<tspan class="par" dx="-2.8"> (</tspan><tspan dx="0.3">分钟</tspan><tspan class="par" dx="1">)</tspan></text>
<text class="cjk yl" transform="translate(45.7,689.7) rotate(-90) scale(1.05,1)" x="0" y="9.2">计数</text>
<path class="tr-line" stroke-width="2.3" transform="scale(1.27,1)" d="M56.46,787.5 L56.89,785.7 L57.32,786.0 L57.76,786.8 L58.19,788.3 L58.62,789.5 L59.06,787.2 L59.49,788.1 L59.92,788.4 L60.35,787.0 L60.79,787.3 L61.22,786.2 L61.65,785.6 L62.09,786.0 L62.52,788.2 L62.95,788.5 L63.39,787.4 L63.82,786.0 L64.25,789.0 L64.69,786.3 L65.12,789.5 L65.55,788.0 L65.98,786.7 L66.42,787.7 L66.85,786.4 L67.28,790.2 L67.72,785.8 L68.15,787.2 L68.58,787.0 L69.02,784.8 L69.45,784.4 L69.88,787.4 L70.31,787.9 L70.75,788.0 L71.18,787.2 L71.61,788.6 L72.05,787.3 L72.48,787.9 L72.91,788.1 L73.35,788.1 L73.78,786.3 L74.21,787.5 L74.65,787.8 L75.08,786.8 L75.51,787.3 L75.94,787.7 L76.38,786.9 L76.81,789.7 L77.24,790.4 L77.68,788.6 L78.11,787.6 L78.54,786.6 L78.98,787.1 L79.41,787.2 L79.84,788.2 L80.28,787.6 L80.71,788.5 L81.14,788.2 L81.57,786.8 L82.01,785.7 L82.44,786.0 L82.87,786.6 L83.31,788.0 L83.74,789.3 L84.17,786.4 L84.61,788.2 L85.04,787.0 L85.47,788.3 L85.91,789.3 L86.34,787.9 L86.77,787.2 L87.20,787.9 L87.64,789.4 L88.07,787.8 L88.50,787.1 L88.94,787.7 L89.37,789.5 L89.80,784.6 L90.24,788.8 L90.67,788.3 L91.10,786.9 L91.54,786.2 L91.97,785.3 L92.40,785.9 L92.83,787.6 L93.27,788.5 L93.70,787.4 L94.13,787.8 L94.57,787.5 L95.00,789.8 L95.43,785.6 L95.87,784.9 L96.30,787.3 L96.73,785.0 L97.17,787.6 L97.60,784.7 L98.03,788.8 L98.46,788.0 L98.90,787.0 L99.33,787.8 L99.76,786.2 L100.20,787.6 L100.63,786.5 L101.06,785.4 L101.50,787.5 L101.93,787.4 L102.36,786.9 L102.80,786.7 L103.23,788.3 L103.66,786.5 L104.09,786.0 L104.53,786.3 L104.96,786.9 L105.39,785.5 L105.83,784.7 L106.26,784.1 L106.69,784.6 L107.13,785.4 L107.56,788.7 L107.99,785.0 L108.43,787.0 L108.86,788.1 L109.29,787.2 L109.72,786.3 L110.16,787.7 L110.59,788.6 L111.02,788.8 L111.46,788.2 L111.89,788.2 L112.32,789.7 L112.76,785.2 L113.19,787.4 L113.62,789.3 L114.06,787.5 L114.49,786.8 L114.92,786.2 L115.35,785.9 L115.79,785.5 L116.22,787.3 L116.65,787.3 L117.09,787.2 L117.52,782.0 L117.95,786.9 L118.39,787.7 L118.82,789.0 L119.25,786.7 L119.69,784.6 L120.12,785.4 L120.55,786.1 L120.98,789.6 L121.42,786.4 L121.85,786.0 L122.28,786.7 L122.72,786.1 L123.15,786.2 L123.58,784.8 L124.02,787.8 L124.45,786.9 L124.88,786.3 L125.31,788.0 L125.75,786.1 L126.18,786.4 L126.61,787.4 L127.05,787.1 L127.48,788.1 L127.91,788.3 L128.35,788.7 L128.78,788.2 L129.21,789.9 L129.65,787.0 L130.08,787.1 L130.51,786.7 L130.94,787.1 L131.38,787.1 L131.81,790.7 L132.24,787.6 L132.68,785.3 L133.11,786.0 L133.54,784.1 L133.98,785.6 L134.41,785.8 L134.84,785.6 L135.28,787.0 L135.71,790.0 L136.14,789.2 L136.57,790.6 L137.01,790.8 L137.44,786.6 L137.87,790.0 L138.31,785.9 L138.74,789.4 L139.17,787.4 L139.61,788.6 L140.04,790.7 L140.47,789.2 L140.91,785.8 L141.34,783.9 L141.77,786.0 L142.20,788.6 L142.64,787.8 L143.07,788.5 L143.50,786.8 L143.94,789.0 L144.37,786.5 L144.80,785.4 L145.24,786.3 L145.67,787.5 L146.10,785.1 L146.54,783.5 L146.97,785.7 L147.40,787.5 L147.83,786.9 L148.27,788.2 L148.70,788.6 L149.13,786.8 L149.57,788.5 L150.00,789.7 L150.43,786.1 L150.87,787.7 L151.30,784.4 L151.73,785.8 L152.17,786.4 L152.60,787.3 L153.03,785.3 L153.46,788.3 L153.90,786.3 L154.33,784.2 L154.76,786.3 L155.20,787.4 L155.63,786.0 L156.06,787.2 L156.50,787.7 L156.93,788.1 L157.36,787.3 L157.80,786.3 L158.23,787.0 L158.66,787.8 L159.09,788.7 L159.53,787.0 L159.96,785.6 L160.39,787.7 L160.83,786.3 L161.26,784.6 L161.69,785.9 L162.13,786.4 L162.56,787.0 L162.99,787.1 L163.43,786.7 L163.86,787.2 L164.29,787.2 L164.72,785.7 L165.16,784.9 L165.59,783.7 L166.02,785.7 L166.46,787.0 L166.89,786.8 L167.32,787.5 L167.76,787.8 L168.19,785.5 L168.62,786.5 L169.06,784.4 L169.49,787.3 L169.92,785.3 L170.35,786.5 L170.79,784.5 L171.22,789.0 L171.65,788.4 L172.09,787.2 L172.52,788.3 L172.95,789.7 L173.39,788.4 L173.82,785.9 L174.25,786.6 L174.69,785.3 L175.12,786.0 L175.55,785.8 L175.98,784.2 L176.42,786.4 L176.85,787.1 L177.28,787.3 L177.72,786.3 L178.15,788.4 L178.58,788.5 L179.02,788.3 L179.45,789.6 L179.88,785.3 L180.31,789.2 L180.75,789.2 L181.18,787.3 L181.61,788.3 L182.05,786.7 L182.48,787.3 L182.91,787.5 L183.35,786.7 L183.78,788.0 L184.21,786.7 L184.65,788.8 L185.08,790.9 L185.51,790.8 L185.94,788.1 L186.38,789.4 L186.81,787.6 L187.24,785.7 L187.68,786.4 L188.11,787.3 L188.54,787.5 L188.98,787.9 L189.41,786.1 L189.84,786.5 L190.28,788.3 L190.71,787.4 L191.14,787.6 L191.57,787.1 L192.01,788.3 L192.44,788.7 L192.87,787.0 L193.31,788.5 L193.74,784.5 L194.17,786.5 L194.61,786.1 L195.04,787.9 L195.47,788.1 L195.91,788.5 L196.34,787.8 L196.77,787.1 L197.20,786.7 L197.64,786.7 L198.07,785.9 L198.50,785.5 L198.94,788.3 L199.37,788.7 L199.80,787.0 L200.24,788.8 L200.67,787.7 L201.10,788.5 L201.54,789.0 L201.97,788.3 L202.40,787.7 L202.83,786.1 L203.27,788.0 L203.70,788.1 L204.13,789.3 L204.57,785.7 L205.00,787.4 L205.43,787.2 L205.87,787.9 L206.30,785.1 L206.73,787.4 L207.17,786.0 L207.60,785.7 L208.03,785.1 L208.46,785.9 L208.90,788.4 L209.33,787.6 L209.76,786.9 L210.20,788.6 L210.63,790.4 L211.06,789.6 L211.50,789.4 L211.93,789.3 L212.36,788.9 L212.80,787.4 L213.23,786.6 L213.66,789.2 L214.09,787.8 L214.53,788.1 L214.96,787.3 L215.39,788.4 L215.83,789.5 L216.26,788.0 L216.69,788.7 L217.13,788.3 L217.56,788.6 L217.99,787.7 L218.43,787.7 L218.86,787.0 L219.29,787.5 L219.72,786.8 L220.16,788.7 L220.59,787.9 L221.02,789.7 L221.46,787.1 L221.89,786.7 L222.32,788.5 L222.76,787.6 L223.19,784.9 L223.62,789.1 L224.06,786.2 L224.49,787.5 L224.92,785.5 L225.35,786.3 L225.79,786.9 L226.22,785.6 L226.65,786.9 L227.09,787.4 L227.52,788.6 L227.95,786.1 L228.39,788.7 L228.82,787.7 L229.25,788.1 L229.69,788.1 L230.12,787.0 L230.55,785.3 L230.98,783.9 L231.42,787.5 L231.85,787.4 L232.28,786.8 L232.72,786.0 L233.15,784.7 L233.58,785.6 L234.02,788.6 L234.45,785.5 L234.88,788.7 L234.96,786.0 L235.03,785.0 L235.10,784.0 L235.17,783.0 L235.23,782.0 L235.28,781.0 L235.33,780.0 L235.37,779.0 L235.41,778.0 L235.45,777.0 L235.48,776.0 L235.51,775.0 L235.54,774.0 L235.57,773.0 L235.59,772.0 L235.62,771.0 L235.64,770.0 L235.66,769.0 L235.68,768.0 L235.70,767.0 L235.72,766.0 L235.74,765.0 L235.75,764.0 L235.77,763.0 L235.79,762.0 L235.80,761.0 L235.81,760.0 L235.83,759.0 L235.84,758.0 L235.86,757.0 L235.87,756.0 L235.88,755.0 L235.90,754.0 L235.91,753.0 L235.92,752.0 L235.94,751.0 L235.95,750.0 L235.97,749.0 L235.98,748.0 L236.00,747.0 L236.02,746.0 L236.03,745.0 L236.05,744.0 L236.07,743.0 L236.09,742.0 L236.10,741.0 L236.12,740.0 L236.14,739.0 L236.16,738.0 L236.17,737.0 L236.19,736.0 L236.21,735.0 L236.23,734.0 L236.25,733.0 L236.27,732.0 L236.28,731.0 L236.30,730.0 L236.32,729.0 L236.34,728.0 L236.35,727.0 L236.37,726.0 L236.39,725.0 L236.41,724.0 L236.42,723.0 L236.44,722.0 L236.46,721.0 L236.47,720.0 L236.49,719.0 L236.51,718.0 L236.52,717.0 L236.54,716.0 L236.55,715.0 L236.57,714.0 L236.58,713.0 L236.60,712.0 L236.62,711.0 L236.63,710.0 L236.65,709.0 L236.66,708.0 L236.68,707.0 L236.69,706.0 L236.71,705.0 L236.72,704.0 L236.74,703.0 L236.75,702.0 L236.77,701.0 L236.78,700.0 L236.80,699.0 L236.81,698.0 L236.83,697.0 L236.84,696.0 L236.86,695.0 L236.87,694.0 L236.89,693.0 L236.90,692.0 L236.92,691.0 L236.93,690.0 L236.95,689.0 L236.96,688.0 L236.98,687.0 L236.99,686.0 L237.01,685.0 L237.02,684.0 L237.04,683.0 L237.06,682.0 L237.07,681.0 L237.09,680.0 L237.10,679.0 L237.12,678.0 L237.13,677.0 L237.15,676.0 L237.16,675.0 L237.18,674.0 L237.20,673.0 L237.21,672.0 L237.23,671.0 L237.24,670.0 L237.26,669.0 L237.28,668.0 L237.29,667.0 L237.31,666.0 L237.32,665.0 L237.34,664.0 L237.36,663.0 L237.37,662.0 L237.39,661.0 L237.40,660.0 L237.42,659.0 L237.43,658.0 L237.45,657.0 L237.47,656.0 L237.48,655.0 L237.50,654.0 L237.51,653.0 L237.53,652.0 L237.55,651.0 L237.56,650.0 L237.58,649.0 L237.59,648.0 L237.61,647.0 L237.62,646.0 L237.64,645.0 L237.65,644.0 L237.67,643.0 L237.69,642.0 L237.70,641.0 L237.72,640.0 L237.73,639.0 L237.75,638.0 L237.76,637.0 L237.78,636.0 L237.79,635.0 L237.81,634.0 L237.82,633.0 L237.84,632.0 L237.85,631.0 L237.87,630.0 L237.88,629.0 L237.90,628.0 L237.91,627.0 L237.93,626.0 L237.94,625.0 L237.96,624.0 L237.97,623.0 L237.99,622.0 L238.00,621.0 L238.02,620.0 L238.04,619.0 L238.05,618.0 L238.07,617.0 L238.08,616.0 L238.10,615.0 L238.11,614.0 L238.13,613.0 L238.14,612.0 L238.16,611.0 L238.17,610.0 L238.18,609.0 L238.20,608.0 L238.21,607.0 L238.23,606.0 L238.24,605.0 L238.26,604.0 L238.27,603.0 L238.29,602.0 L238.30,601.0 L238.32,600.0 L238.33,599.0 L238.35,598.0 L238.36,597.0 L238.38,596.0 L238.39,595.0 L238.41,594.0 L238.42,593.0 L238.44,592.0 L238.45,591.0 L238.47,590.0 L238.48,589.0 L238.49,588.0 L238.51,587.0 L238.52,586.0 L238.54,585.0 L238.55,584.0 L238.57,583.0 L238.58,582.0 L238.60,581.0 L238.61,580.0 L238.63,579.0 L238.64,578.0 L238.65,577.0 L238.67,576.0 L238.68,575.0 L238.70,574.0 L238.71,573.0 L238.73,572.0 L238.74,571.0 L238.75,570.0 L238.77,569.0 L238.78,568.0 L238.80,567.0 L238.81,566.0 L238.83,565.0 L238.84,564.0 L238.85,563.0 L238.87,562.0 L238.88,561.0 L238.90,560.0 L238.90,559.9 L238.91,560.9 L238.93,561.9 L238.94,562.9 L238.96,563.9 L238.98,564.9 L238.99,565.9 L239.01,566.9 L239.03,567.9 L239.04,568.9 L239.06,569.9 L239.08,570.9 L239.10,571.9 L239.11,572.9 L239.13,573.9 L239.15,574.9 L239.17,575.9 L239.19,576.9 L239.21,577.9 L239.23,578.9 L239.25,579.9 L239.27,580.9 L239.29,581.9 L239.31,582.9 L239.33,583.9 L239.35,584.9 L239.37,585.9 L239.39,586.9 L239.41,587.9 L239.43,588.9 L239.45,589.9 L239.48,590.9 L239.50,591.9 L239.52,592.9 L239.54,593.9 L239.57,594.9 L239.59,595.9 L239.61,596.9 L239.63,597.9 L239.66,598.9 L239.68,599.9 L239.70,600.9 L239.73,601.9 L239.75,602.9 L239.78,603.9 L239.80,604.9 L239.83,605.9 L239.85,606.9 L239.87,607.9 L239.90,608.9 L239.92,609.9 L239.95,610.9 L239.97,611.9 L240.00,612.9 L240.02,613.9 L240.05,614.9 L240.08,615.9 L240.10,616.9 L240.13,617.9 L240.15,618.9 L240.18,619.9 L240.21,620.9 L240.23,621.9 L240.26,622.9 L240.29,623.9 L240.31,624.9 L240.34,625.9 L240.37,626.9 L240.39,627.9 L240.42,628.9 L240.45,629.9 L240.48,630.9 L240.51,631.9 L240.54,632.9 L240.57,633.9 L240.60,634.9 L240.63,635.9 L240.66,636.9 L240.70,637.9 L240.73,638.9 L240.76,639.9 L240.79,640.9 L240.83,641.9 L240.86,642.9 L240.89,643.9 L240.93,644.9 L240.96,645.9 L241.00,646.9 L241.03,647.9 L241.07,648.9 L241.10,649.9 L241.14,650.9 L241.17,651.9 L241.21,652.9 L241.24,653.9 L241.28,654.9 L241.31,655.9 L241.35,656.9 L241.39,657.9 L241.42,658.9 L241.46,659.9 L241.49,660.9 L241.53,661.9 L241.57,662.9 L241.60,663.9 L241.64,664.9 L241.67,665.9 L241.71,666.9 L241.74,667.9 L241.78,668.9 L241.82,669.9 L241.85,670.9 L241.89,671.9 L241.92,672.9 L241.96,673.9 L241.99,674.9 L242.03,675.9 L242.06,676.9 L242.10,677.9 L242.13,678.9 L242.17,679.9 L242.21,680.9 L242.24,681.9 L242.28,682.9 L242.31,683.9 L242.35,684.9 L242.38,685.9 L242.42,686.9 L242.46,687.9 L242.49,688.9 L242.53,689.9 L242.57,690.9 L242.60,691.9 L242.64,692.9 L242.68,693.9 L242.71,694.9 L242.75,695.9 L242.79,696.9 L242.82,697.9 L242.86,698.9 L242.90,699.9 L242.93,700.9 L242.97,701.9 L243.01,702.9 L243.05,703.9 L243.08,704.9 L243.12,705.9 L243.16,706.9 L243.20,707.9 L243.24,708.9 L243.27,709.9 L243.31,710.9 L243.35,711.9 L243.39,712.9 L243.43,713.9 L243.46,714.9 L243.50,715.9 L243.54,716.9 L243.58,717.9 L243.62,718.9 L243.66,719.9 L243.70,720.9 L243.74,721.9 L243.77,722.9 L243.81,723.9 L243.85,724.9 L243.88,725.9 L243.92,726.9 L243.95,727.9 L243.99,728.9 L244.02,729.9 L244.06,730.9 L244.09,731.9 L244.13,732.9 L244.16,733.9 L244.20,734.9 L244.24,735.9 L244.28,736.9 L244.32,737.9 L244.36,738.9 L244.40,739.9 L244.44,740.9 L244.49,741.9 L244.53,742.9 L244.58,743.9 L244.63,744.9 L244.69,745.9 L244.74,746.9 L244.80,747.9 L244.86,748.9 L244.92,749.9 L244.99,750.9 L245.05,751.9 L245.13,752.9 L245.20,753.9 L245.28,754.9 L245.37,755.9 L245.45,756.9 L245.54,757.9 L245.64,758.9 L245.74,759.9 L245.84,760.9 L245.95,761.9 L246.06,762.9 L246.17,763.9 L246.29,764.9 L246.42,765.9 L246.54,766.9 L246.68,767.9 L246.81,768.9 L246.97,769.9 L247.14,770.9 L247.33,771.9 L247.54,772.9 L247.75,773.9 L247.98,774.9 L248.22,775.9 L248.47,776.9 L248.72,777.9 L248.98,778.9 L249.13,779.5 L249.57,780.5 L250.00,781.3 L250.43,782.4 L250.87,782.9 L251.30,784.2 L251.73,784.1 L252.17,783.9 L252.60,783.7 L253.03,785.6 L253.46,785.4 L253.90,786.2 L254.33,787.4 L254.76,787.3 L255.20,788.3 L255.63,786.3 L256.06,786.1 L256.50,787.5 L256.93,784.5 L257.36,786.5 L257.80,785.7 L258.23,788.4 L258.27,787.4 L258.70,785.6 L259.13,786.7 L259.57,786.2 L260.00,786.9 L260.43,788.0 L260.87,786.2 L261.30,787.7 L261.73,786.4 L262.17,786.1 L262.60,786.5 L263.03,788.1 L263.46,787.7 L263.90,787.5 L264.33,789.8 L264.76,787.8 L265.20,788.4 L265.63,787.7 L266.06,788.0 L266.50,786.9 L266.93,785.9 L267.36,786.7 L267.80,786.6 L268.23,786.5 L268.66,783.6 L269.09,785.7 L269.53,784.3 L269.96,787.3 L270.39,788.2 L270.83,787.6 L271.26,788.2 L271.69,788.0 L272.13,789.7 L272.56,786.9 L272.99,787.8 L273.43,789.8 L273.86,787.1 L274.29,787.4 L274.72,789.1 L275.16,785.3 L275.59,785.7 L276.02,785.5 L276.46,786.0 L276.89,785.0 L277.32,786.0 L277.76,784.9 L278.19,788.7 L278.62,787.5 L279.06,788.0 L279.49,787.4 L279.92,788.3 L280.35,787.9 L280.79,788.7 L281.22,787.5 L281.65,787.3 L282.09,788.9 L282.52,788.4 L282.95,788.9 L283.39,787.8 L283.82,784.6 L284.25,786.9 L284.69,787.3 L285.12,786.7 L285.55,787.4 L285.98,787.5 L286.42,785.1 L286.85,786.8 L287.28,787.4 L287.72,789.1 L288.15,786.4 L288.58,786.5 L289.02,789.5 L289.45,787.1 L289.88,789.9 L290.31,789.7 L290.75,790.7 L291.18,787.6 L291.61,787.0 L292.05,787.8 L292.48,787.8 L292.91,787.2 L293.35,786.9 L293.78,787.7 L294.21,788.2 L294.65,784.8 L295.08,787.6 L295.51,788.0 L295.94,787.5 L296.38,787.2 L296.81,787.3 L297.24,785.3 L297.68,787.2 L298.11,787.1 L298.54,787.5 L298.98,788.5 L299.41,787.0 L299.84,790.0 L300.28,788.9 L300.71,788.7 L301.14,788.2 L301.57,787.7 L302.01,785.6 L302.44,788.1 L302.87,787.6 L303.31,787.8 L303.74,788.5 L304.17,787.8 L304.61,789.6 L305.04,788.6 L305.47,788.2 L305.91,787.9 L306.34,786.7 L306.77,788.1 L307.20,784.9 L307.64,787.3 L308.07,786.6 L308.50,784.9 L308.94,784.5 L309.37,787.3 L309.80,786.6 L310.24,788.3 L310.67,789.5 L311.10,789.1 L311.54,786.7 L311.97,786.1 L312.40,788.5 L312.83,789.2 L313.27,790.0 L313.70,788.8 L314.13,786.1 L314.57,784.5 L315.00,784.3 L315.43,787.1 L315.87,786.3 L316.30,787.1 L316.73,786.8 L317.17,784.7 L317.60,787.8 L318.03,785.4 L318.46,783.7 L318.90,785.6 L319.33,787.4 L319.76,789.1 L320.20,788.8 L320.63,789.0 L321.06,789.0 L321.50,788.7 L321.93,788.5 L322.36,785.6 L322.80,786.0 L323.23,789.8 L323.66,785.2 L324.09,784.4 L324.53,786.6 L324.96,787.2 L325.39,787.4 L325.83,790.4 L326.26,789.6 L326.69,786.9 L327.13,790.2 L327.56,785.5 L327.99,787.3 L328.43,785.7 L328.86,783.2 L329.29,786.0 L329.72,787.1 L330.16,786.4 L330.59,786.7 L331.02,787.2 L331.46,789.5 L331.89,786.7 L332.32,787.8 L332.76,786.4 L333.19,786.5 L333.62,786.3 L334.06,786.0 L334.49,785.7 L334.92,787.5 L335.35,788.4 L335.79,786.9 L336.22,785.9 L336.65,785.0 L337.09,786.8 L337.52,787.0 L337.95,789.1 L338.39,786.9 L338.82,788.9 L339.25,786.9 L339.69,788.7 L340.12,789.6 L340.55,788.6 L340.98,787.3 L341.42,788.9 L341.85,788.2 L342.28,788.2 L342.72,787.7 L343.15,788.7 L343.58,786.2 L344.02,789.6 L344.45,788.7 L344.88,789.1 L345.31,785.9 L345.75,788.3 L346.18,787.4 L346.61,786.1 L347.05,789.2 L347.48,785.9 L347.91,787.2 L348.35,789.0 L348.78,790.0 L349.21,788.9 L349.65,788.8 L350.08,789.8 L350.51,788.3 L350.94,790.1 L351.38,788.7 L351.81,787.4 L352.24,789.3 L352.68,788.6 L353.11,788.1 L353.54,787.2 L353.98,787.4 L354.41,786.7 L354.84,785.3 L355.28,786.7 L355.71,786.5 L356.14,786.0 L356.57,786.6 L357.01,788.2 L357.44,787.7 L357.87,788.1 L358.31,789.0 L358.74,787.6 L359.17,791.1 L359.61,789.3 L360.04,790.5 L360.47,789.8 L360.91,789.3 L361.34,789.6 L361.77,786.5 L362.20,788.8 L362.64,787.9 L363.07,788.3 L363.50,785.9 L363.94,787.7 L364.37,786.8 L364.80,786.6 L365.24,784.9 L365.67,783.3 L366.10,786.4 L366.54,786.7 L366.97,788.2 L367.40,785.7 L367.83,786.4 L368.27,788.5 L368.70,787.9 L369.13,787.4 L369.57,787.4 L370.00,787.5 L370.43,787.7 L370.87,787.1 L371.30,788.0 L371.73,787.3 L372.17,786.6 L372.60,783.7 L373.03,786.7 L373.46,786.7 L373.90,788.2 L374.33,785.6 L374.76,788.3 L375.20,787.3 L375.63,789.5"/>
</g>
<g id="panel-D" filter="url(#soft)">
<text class="ttl" x="533.8" y="500">D</text>
<path class="ay" stroke-width="1.6" d="M564.3,528.8 L563.4,800.3000000000001"/>
<path class="ax" d="M562.4,799.60 L967.1999999999999,801.01"/>
<path class="tk" d="M563.4,799.60 v3.0 M603.8,799.74 v3.0 M644.1,799.88 v3.0 M684.5,800.02 v3.0 M724.8,800.16 v3.0 M765.1,800.31 v3.0 M805.5,800.45 v3.0 M845.8,800.59 v3.0 M886.2,800.73 v3.0 M926.5,800.87 v3.0 M966.9,801.01 v3.0 "/>
<text class="tick" x="563.4" y="824.80">0</text>
<text class="tick" x="603.8" y="825.00">2</text>
<text class="tick" x="644.1" y="825.20">4</text>
<text class="tick" x="684.5" y="825.41">6</text>
<text class="tick" x="724.8" y="825.61">8</text>
<text class="tick" x="765.1" y="825.81">10</text>
<text class="tick" x="805.5" y="826.01">12</text>
<text class="tick" x="845.8" y="826.21">14</text>
<text class="tick" x="886.2" y="826.41">16</text>
<text class="tick" x="926.5" y="826.62">18</text>
<text class="tick" x="966.9" y="826.82">20</text>
<path d="M574.5,533.2 H593.8" stroke="#1c1c1c" stroke-width="2" fill="none"/>
<text class="sup" x="599.2" y="531.9">177</text>
<text class="leg" x="626.8" y="542.3">Lu-PSMA-ALB-05</text>
<text class="tr" font-size="23.7" x="846.8" y="751">t<tspan class="sub" dy="5.2">R</tspan><tspan dy="-5.2"> = 11.0</tspan><tspan class="cjk" font-size="26.5" dx="4.5" dy="6.3">分钟</tspan></text>
<text class="cjk xl" transform="translate(805.5,873.0) scale(1.03,1)" x="0" y="0">保留时间<tspan class="par" dx="-2.8"> (</tspan><tspan dx="0.3">分钟</tspan><tspan class="par" dx="1">)</tspan></text>
<text class="cjk yl" transform="translate(542.2,659.8) rotate(-90) scale(1.05,1)" x="0" y="9.2">计数</text>
<path class="tr-line" stroke-width="2.2" transform="scale(1.27,1)" d="M444.02,787.6 L444.45,788.6 L444.88,784.4 L445.31,788.6 L445.75,788.9 L446.18,789.5 L446.61,789.1 L447.05,788.8 L447.48,791.0 L447.91,790.1 L448.35,790.0 L448.78,788.8 L449.21,788.8 L449.65,789.5 L450.08,789.8 L450.51,788.8 L450.94,789.2 L451.38,789.2 L451.81,786.1 L452.24,789.1 L452.68,789.0 L453.11,789.2 L453.54,788.5 L453.98,789.7 L454.41,791.8 L454.84,790.6 L455.28,792.5 L455.71,791.5 L456.14,790.1 L456.57,790.4 L457.01,790.9 L457.44,787.9 L457.87,789.9 L458.31,790.9 L458.74,788.7 L459.17,790.3 L459.61,789.6 L460.04,787.2 L460.47,788.2 L460.91,785.7 L461.34,785.8 L461.77,785.5 L462.20,787.6 L462.64,786.8 L463.07,786.4 L463.50,786.6 L463.94,787.0 L464.37,786.7 L464.80,787.0 L465.24,788.7 L465.67,788.0 L466.10,788.5 L466.54,789.9 L466.97,788.4 L467.40,785.6 L467.83,789.6 L468.27,786.6 L468.70,787.9 L469.13,788.0 L469.57,789.0 L470.00,785.5 L470.43,786.5 L470.87,785.8 L471.30,786.3 L471.73,786.3 L472.17,787.2 L472.60,788.5 L473.03,788.5 L473.46,789.1 L473.90,789.3 L474.33,786.2 L474.76,787.5 L475.20,786.2 L475.63,786.9 L476.06,784.6 L476.50,783.3 L476.93,783.1 L477.36,783.2 L477.80,782.0 L478.23,779.0 L478.66,778.7 L479.09,779.1 L479.53,779.0 L479.96,778.8 L480.39,780.2 L480.83,780.8 L481.26,778.9 L481.69,779.9 L482.13,777.9 L482.56,777.7 L482.99,780.9 L483.43,780.6 L483.86,780.2 L484.29,781.2 L484.72,780.8 L485.16,779.3 L485.59,780.7 L486.02,778.5 L486.46,779.7 L486.89,782.9 L487.32,781.4 L487.76,783.7 L488.19,780.6 L488.62,781.2 L489.06,780.8 L489.49,783.0 L489.92,786.2 L490.35,783.8 L490.79,785.2 L491.22,785.6 L491.65,785.0 L492.09,785.4 L492.52,783.1 L492.95,783.2 L493.39,782.4 L493.82,786.1 L494.25,786.3 L494.69,786.9 L495.12,787.0 L495.55,784.4 L495.98,787.0 L496.42,786.7 L496.85,788.2 L497.28,787.7 L497.72,786.3 L498.15,786.9 L498.58,789.1 L499.02,785.9 L499.45,786.7 L499.88,789.6 L500.31,791.4 L500.75,789.6 L501.18,787.7 L501.61,791.3 L502.05,787.7 L502.48,789.6 L502.91,788.4 L503.35,788.0 L503.78,787.7 L504.21,787.7 L504.65,783.6 L505.08,785.8 L505.51,786.7 L505.94,787.6 L506.38,786.7 L506.81,788.4 L507.24,787.2 L507.68,787.1 L508.11,786.7 L508.54,788.7 L508.98,788.4 L509.41,788.9 L509.84,785.3 L510.28,786.9 L510.71,788.4 L511.14,790.2 L511.57,787.4 L512.01,783.6 L512.44,787.1 L512.87,788.5 L513.31,789.5 L513.74,789.7 L514.17,789.0 L514.61,788.1 L515.04,791.2 L515.47,788.7 L515.91,790.2 L516.34,790.7 L516.77,789.8 L517.20,790.4 L517.64,791.6 L518.07,790.1 L518.50,790.7 L518.94,790.3 L519.37,792.4 L519.80,789.7 L520.24,786.9 L520.67,788.0 L521.10,785.9 L521.54,788.4 L521.97,785.7 L522.40,790.0 L522.83,788.6 L523.27,786.6 L523.70,788.0 L524.13,786.5 L524.57,787.7 L525.00,788.2 L525.43,787.6 L525.87,790.9 L526.30,787.5 L526.73,788.9 L527.17,791.5 L527.60,787.3 L528.03,787.0 L528.46,785.1 L528.90,790.0 L529.33,789.7 L529.76,791.5 L530.20,790.8 L530.63,789.5 L531.06,791.2 L531.50,787.7 L531.93,791.6 L532.36,792.6 L532.80,791.3 L533.23,792.0 L533.66,789.2 L534.09,790.7 L534.53,791.8 L534.96,790.1 L535.39,792.4 L535.83,789.0 L536.26,790.6 L536.69,790.8 L537.13,791.1 L537.56,790.4 L537.99,790.9 L538.43,791.0 L538.86,790.9 L539.29,789.8 L539.72,789.7 L540.16,787.7 L540.59,785.7 L541.02,790.3 L541.46,791.6 L541.89,788.5 L542.32,790.5 L542.76,790.8 L543.19,790.2 L543.62,791.0 L544.06,788.1 L544.49,790.7 L544.92,790.9 L545.35,789.4 L545.79,792.3 L546.22,790.7 L546.65,789.4 L547.09,791.3 L547.52,790.0 L547.95,791.0 L548.39,788.0 L548.82,789.0 L549.25,791.2 L549.69,791.6 L550.12,792.5 L550.55,791.9 L550.98,792.3 L551.42,789.4 L551.85,788.3 L552.28,786.8 L552.72,789.6 L553.15,789.3 L553.58,791.5 L554.02,789.2 L554.45,791.0 L554.88,787.2 L555.31,791.4 L555.75,789.5 L556.18,789.7 L556.61,790.2 L557.05,787.9 L557.48,790.1 L557.91,788.4 L558.35,790.3 L558.78,790.5 L559.21,791.1 L559.65,791.0 L560.08,789.1 L560.51,790.4 L560.94,786.1 L561.38,788.9 L561.81,787.1 L562.24,787.7 L562.68,786.8 L563.11,788.7 L563.54,787.9 L563.98,790.1 L564.41,786.4 L564.84,789.8 L565.28,787.8 L565.71,789.2 L566.14,788.1 L566.57,787.1 L567.01,786.0 L567.44,789.5 L567.87,786.3 L568.31,786.4 L568.74,789.1 L569.17,789.0 L569.61,787.6 L570.04,785.5 L570.47,787.6 L570.91,788.1 L571.34,787.3 L571.77,790.2 L572.20,789.1 L572.64,788.9 L573.07,787.7 L573.50,785.4 L573.94,785.2 L574.37,784.7 L574.80,786.9 L575.24,785.0 L575.67,785.3 L576.10,785.2 L576.54,784.6 L576.97,786.8 L577.40,785.6 L577.83,781.6 L578.27,784.1 L578.70,785.1 L579.13,780.5 L579.57,783.6 L580.00,781.1 L580.43,781.2 L580.87,781.2 L581.30,781.3 L581.73,780.4 L582.17,777.5 L582.60,780.9 L583.03,781.5 L583.46,781.1 L583.90,780.8 L584.33,783.9 L584.76,782.5 L585.20,784.6 L585.63,787.0 L586.06,785.4 L586.50,787.2 L586.93,789.0 L587.36,787.2 L587.80,786.8 L588.23,783.0 L588.66,788.5 L589.09,786.2 L589.53,783.2 L589.96,786.4 L590.39,784.3 L590.83,784.3 L591.26,783.5 L591.69,785.6 L592.13,786.2 L592.56,785.3 L592.99,786.0 L593.43,788.0 L593.86,786.8 L594.29,786.5 L594.72,789.0 L595.16,786.7 L595.59,787.7 L596.02,786.2 L596.46,786.4 L596.89,785.9 L597.32,786.3 L597.76,786.3 L598.19,784.7 L598.62,787.1 L599.06,786.3 L599.49,788.6 L599.92,786.6 L600.35,787.1 L600.79,784.7 L601.22,785.1 L601.65,787.7 L602.09,785.4 L602.52,787.3 L602.95,787.9 L603.39,785.9 L603.82,784.6 L604.25,789.3 L604.69,785.3 L605.12,785.4 L605.55,789.0 L605.98,786.2 L606.42,785.7 L606.85,787.3 L607.28,787.1 L607.72,788.9 L608.15,789.2 L608.58,788.2 L609.02,789.5 L609.45,789.0 L609.88,787.3 L610.31,784.5 L610.75,784.6 L611.18,782.5 L611.61,787.1 L612.05,785.8 L612.48,786.7 L612.91,786.6 L613.35,787.8 L613.78,787.8 L614.21,786.1 L614.25,785.5 L614.32,784.5 L614.39,783.5 L614.45,782.5 L614.51,781.5 L614.56,780.5 L614.61,779.5 L614.65,778.5 L614.69,777.5 L614.72,776.5 L614.76,775.5 L614.79,774.5 L614.82,773.5 L614.85,772.5 L614.88,771.5 L614.91,770.5 L614.94,769.5 L614.98,768.5 L615.01,767.5 L615.05,766.5 L615.08,765.5 L615.12,764.5 L615.16,763.5 L615.21,762.5 L615.25,761.5 L615.29,760.5 L615.33,759.5 L615.37,758.5 L615.41,757.5 L615.46,756.5 L615.50,755.5 L615.53,754.5 L615.57,753.5 L615.61,752.5 L615.64,751.5 L615.68,750.5 L615.71,749.5 L615.75,748.5 L615.78,747.5 L615.81,746.5 L615.85,745.5 L615.88,744.5 L615.91,743.5 L615.94,742.5 L615.97,741.5 L616.01,740.5 L616.04,739.5 L616.07,738.5 L616.10,737.5 L616.13,736.5 L616.16,735.5 L616.19,734.5 L616.22,733.5 L616.25,732.5 L616.28,731.5 L616.31,730.5 L616.34,729.5 L616.38,728.5 L616.41,727.5 L616.44,726.5 L616.47,725.5 L616.50,724.5 L616.53,723.5 L616.57,722.5 L616.60,721.5 L616.63,720.5 L616.66,719.5 L616.70,718.5 L616.73,717.5 L616.76,716.5 L616.80,715.5 L616.83,714.5 L616.87,713.5 L616.90,712.5 L616.93,711.5 L616.97,710.5 L617.00,709.5 L617.03,708.5 L617.07,707.5 L617.10,706.5 L617.13,705.5 L617.16,704.5 L617.20,703.5 L617.23,702.5 L617.26,701.5 L617.29,700.5 L617.32,699.5 L617.35,698.5 L617.38,697.5 L617.41,696.5 L617.44,695.5 L617.47,694.5 L617.50,693.5 L617.52,692.5 L617.55,691.5 L617.58,690.5 L617.60,689.5 L617.63,688.5 L617.65,687.5 L617.67,686.5 L617.70,685.5 L617.72,684.5 L617.74,683.5 L617.76,682.5 L617.78,681.5 L617.80,680.5 L617.82,679.5 L617.84,678.5 L617.86,677.5 L617.88,676.5 L617.90,675.5 L617.92,674.5 L617.94,673.5 L617.95,672.5 L617.97,671.5 L617.99,670.5 L618.01,669.5 L618.02,668.5 L618.04,667.5 L618.06,666.5 L618.07,665.5 L618.09,664.5 L618.11,663.5 L618.12,662.5 L618.14,661.5 L618.15,660.5 L618.17,659.5 L618.19,658.5 L618.20,657.5 L618.22,656.5 L618.23,655.5 L618.25,654.5 L618.26,653.5 L618.28,652.5 L618.30,651.5 L618.31,650.5 L618.33,649.5 L618.35,648.5 L618.36,647.5 L618.38,646.5 L618.40,645.5 L618.41,644.5 L618.43,643.5 L618.45,642.5 L618.46,641.5 L618.48,640.5 L618.50,639.5 L618.52,638.5 L618.54,637.5 L618.56,636.5 L618.58,635.5 L618.60,634.5 L618.62,633.5 L618.64,632.5 L618.66,631.5 L618.68,630.5 L618.70,629.5 L618.72,628.5 L618.75,627.5 L618.77,626.5 L618.79,625.5 L618.82,624.5 L618.84,623.5 L618.87,622.5 L618.90,621.5 L618.92,620.5 L618.95,619.5 L618.98,618.5 L619.01,617.5 L619.03,616.5 L619.06,615.5 L619.09,614.5 L619.12,613.5 L619.16,612.5 L619.19,611.5 L619.22,610.5 L619.25,609.5 L619.28,608.5 L619.32,607.5 L619.35,606.5 L619.38,605.5 L619.42,604.5 L619.45,603.5 L619.49,602.5 L619.53,601.5 L619.56,600.5 L619.60,599.5 L619.63,598.5 L619.67,597.5 L619.71,596.5 L619.75,595.5 L619.78,594.5 L619.82,593.5 L619.86,592.5 L619.90,591.5 L619.94,590.5 L619.98,589.5 L620.02,588.5 L620.06,587.5 L620.10,586.5 L620.14,585.5 L620.18,584.5 L620.22,583.5 L620.26,582.5 L620.30,581.5 L620.34,580.5 L620.39,579.5 L620.39,579.3 L620.47,580.3 L620.54,581.3 L620.62,582.3 L620.69,583.3 L620.76,584.3 L620.83,585.3 L620.91,586.3 L620.98,587.3 L621.05,588.3 L621.12,589.3 L621.19,590.3 L621.26,591.3 L621.33,592.3 L621.40,593.3 L621.47,594.3 L621.54,595.3 L621.61,596.3 L621.68,597.3 L621.74,598.3 L621.81,599.3 L621.88,600.3 L621.94,601.3 L622.01,602.3 L622.07,603.3 L622.14,604.3 L622.20,605.3 L622.27,606.3 L622.33,607.3 L622.39,608.3 L622.45,609.3 L622.51,610.3 L622.57,611.3 L622.63,612.3 L622.69,613.3 L622.75,614.3 L622.81,615.3 L622.87,616.3 L622.92,617.3 L622.98,618.3 L623.03,619.3 L623.09,620.3 L623.14,621.3 L623.19,622.3 L623.25,623.3 L623.30,624.3 L623.35,625.3 L623.40,626.3 L623.45,627.3 L623.49,628.3 L623.54,629.3 L623.59,630.3 L623.63,631.3 L623.68,632.3 L623.72,633.3 L623.76,634.3 L623.81,635.3 L623.85,636.3 L623.89,637.3 L623.93,638.3 L623.97,639.3 L624.01,640.3 L624.05,641.3 L624.09,642.3 L624.13,643.3 L624.16,644.3 L624.20,645.3 L624.24,646.3 L624.28,647.3 L624.31,648.3 L624.35,649.3 L624.38,650.3 L624.42,651.3 L624.46,652.3 L624.49,653.3 L624.53,654.3 L624.56,655.3 L624.60,656.3 L624.64,657.3 L624.67,658.3 L624.71,659.3 L624.74,660.3 L624.78,661.3 L624.82,662.3 L624.85,663.3 L624.89,664.3 L624.93,665.3 L624.96,666.3 L625.00,667.3 L625.04,668.3 L625.08,669.3 L625.12,670.3 L625.16,671.3 L625.20,672.3 L625.24,673.3 L625.28,674.3 L625.32,675.3 L625.36,676.3 L625.40,677.3 L625.45,678.3 L625.49,679.3 L625.53,680.3 L625.58,681.3 L625.63,682.3 L625.67,683.3 L625.72,684.3 L625.77,685.3 L625.82,686.3 L625.87,687.3 L625.92,688.3 L625.97,689.3 L626.03,690.3 L626.08,691.3 L626.13,692.3 L626.19,693.3 L626.25,694.3 L626.30,695.3 L626.36,696.3 L626.42,697.3 L626.48,698.3 L626.54,699.3 L626.60,700.3 L626.66,701.3 L626.72,702.3 L626.79,703.3 L626.85,704.3 L626.92,705.3 L626.98,706.3 L627.05,707.3 L627.12,708.3 L627.18,709.3 L627.25,710.3 L627.32,711.3 L627.39,712.3 L627.46,713.3 L627.53,714.3 L627.61,715.3 L627.68,716.3 L627.75,717.3 L627.83,718.3 L627.91,719.3 L627.98,720.3 L628.06,721.3 L628.14,722.3 L628.22,723.3 L628.30,724.3 L628.38,725.3 L628.46,726.3 L628.54,727.3 L628.63,728.3 L628.72,729.3 L628.81,730.3 L628.90,731.3 L628.99,732.3 L629.09,733.3 L629.19,734.3 L629.28,735.3 L629.39,736.3 L629.49,737.3 L629.59,738.3 L629.69,739.3 L629.80,740.3 L629.91,741.3 L630.01,742.3 L630.12,743.3 L630.23,744.3 L630.34,745.3 L630.45,746.3 L630.56,747.3 L630.67,748.3 L630.78,749.3 L630.89,750.3 L631.00,751.3 L631.10,752.3 L631.21,753.3 L631.32,754.3 L631.42,755.3 L631.52,756.3 L631.61,757.3 L631.71,758.3 L631.81,759.3 L631.91,760.3 L632.02,761.3 L632.14,762.3 L632.26,763.3 L632.39,764.3 L632.53,765.3 L632.69,766.3 L632.86,767.3 L633.07,768.3 L633.32,769.3 L633.59,770.3 L633.88,771.3 L634.19,772.3 L634.51,773.3 L634.80,774.2 L635.24,775.1 L635.67,775.8 L636.10,776.1 L636.54,776.7 L636.97,776.5 L637.40,777.8 L637.83,776.6 L638.27,777.4 L638.70,776.1 L639.13,777.2 L639.57,775.8 L640.00,774.8 L640.43,777.8 L640.87,776.3 L641.30,777.4 L641.73,778.5 L642.17,777.7 L642.60,776.3 L643.03,778.3 L643.46,780.7 L643.90,778.9 L644.33,777.0 L644.76,781.4 L645.20,779.3 L645.63,779.2 L646.06,780.1 L646.50,778.2 L646.93,778.3 L647.36,780.1 L647.80,780.2 L648.23,780.2 L648.66,779.7 L649.09,777.4 L649.53,781.0 L649.96,779.7 L650.39,777.2 L650.83,778.3 L651.26,775.6 L651.69,779.3 L652.13,779.4 L652.56,778.5 L652.99,780.6 L653.43,779.4 L653.86,778.3 L654.29,778.2 L654.72,778.6 L655.16,780.6 L655.59,781.2 L656.02,778.4 L656.46,780.3 L656.89,781.5 L657.32,781.9 L657.76,780.0 L658.19,779.5 L658.62,779.8 L659.06,780.3 L659.49,780.8 L659.92,781.3 L660.35,775.4 L660.79,780.9 L661.22,780.1 L661.65,779.1 L662.09,780.8 L662.52,777.6 L662.95,778.0 L663.39,782.3 L663.82,777.1 L664.25,779.4 L664.69,778.0 L665.12,778.7 L665.55,778.6 L665.98,781.0 L666.42,777.4 L666.85,780.2 L667.28,779.6 L667.72,780.2 L668.15,783.1 L668.58,781.2 L669.02,780.9 L669.45,781.9 L669.88,781.1 L670.31,779.3 L670.75,782.7 L671.18,781.9 L671.61,781.4 L672.05,780.4 L672.48,781.9 L672.91,784.0 L673.35,782.2 L673.78,783.2 L674.21,783.2 L674.65,781.3 L675.08,780.9 L675.51,783.9 L675.94,783.1 L676.38,782.9 L676.81,782.3 L677.24,783.2 L677.68,783.1 L678.11,782.4 L678.54,781.5 L678.98,783.9 L679.41,784.6 L679.84,783.2 L680.28,781.7 L680.71,783.3 L681.14,785.5 L681.57,785.7 L682.01,784.6 L682.44,786.8 L682.87,785.9 L683.31,784.9 L683.74,784.2 L684.17,786.1 L684.61,785.0 L685.04,782.0 L685.47,783.8 L685.91,786.0 L686.34,784.9 L686.77,787.3 L687.20,785.6 L687.64,786.2 L688.07,785.7 L688.50,786.1 L688.94,786.9 L689.37,786.8 L689.80,782.8 L690.24,783.4 L690.67,782.3 L691.10,784.0 L691.54,784.3 L691.97,782.5 L692.40,785.5 L692.83,784.3 L693.27,783.6 L693.70,783.5 L694.13,784.2 L694.57,784.2 L695.00,785.3 L695.43,787.9 L695.87,783.8 L696.30,781.1 L696.73,783.3 L697.17,780.7 L697.60,783.3 L698.03,783.2 L698.46,786.2 L698.90,783.1 L699.33,783.3 L699.76,782.7 L700.20,784.4 L700.63,784.7 L701.06,783.2 L701.50,781.9 L701.93,782.8 L702.36,784.9 L702.80,784.3 L703.23,783.7 L703.66,782.6 L704.09,784.4 L704.53,785.1 L704.96,787.1 L705.39,784.8 L705.83,785.5 L706.26,784.4 L706.69,785.3 L707.13,783.8 L707.56,782.7 L707.99,782.0 L708.43,785.1 L708.86,785.2 L709.29,787.2 L709.72,786.6 L710.16,786.8 L710.59,786.9 L711.02,784.3 L711.46,786.1 L711.89,785.3 L712.32,784.6 L712.76,787.6 L713.19,786.1 L713.62,784.8 L714.06,783.9 L714.49,784.4 L714.92,786.5 L715.35,780.3 L715.79,785.3 L716.22,783.6 L716.65,785.1 L717.09,787.1 L717.52,785.4 L717.95,784.5 L718.39,784.3 L718.82,786.2 L719.25,784.5 L719.69,784.2 L720.12,782.2 L720.55,786.3 L720.98,784.0 L721.42,785.0 L721.85,782.1 L722.28,783.9 L722.72,781.8 L723.15,783.5 L723.58,782.4 L724.02,784.8 L724.45,784.7 L724.88,782.0 L725.31,785.0 L725.75,784.1 L726.18,781.4 L726.61,781.9 L727.05,782.0 L727.48,782.5 L727.91,782.8 L728.35,782.8 L728.78,784.2 L729.21,781.1 L729.65,785.6 L730.08,785.2 L730.51,784.9 L730.94,785.0 L731.38,787.6 L731.81,785.6 L732.24,782.7 L732.68,787.2 L733.11,784.0 L733.54,785.0 L733.98,786.2 L734.41,782.3 L734.84,782.6 L735.28,783.8 L735.71,783.1 L736.14,784.9 L736.57,784.1 L737.01,784.7 L737.44,785.5 L737.87,785.6 L738.31,786.1 L738.74,786.2 L739.17,783.7 L739.61,782.0 L740.04,782.6 L740.47,782.6 L740.91,783.5 L741.34,783.4 L741.77,781.6 L742.20,785.7 L742.64,783.1 L743.07,785.9 L743.50,781.8 L743.94,781.9 L744.37,784.4 L744.80,782.3 L745.24,783.6 L745.67,785.7 L746.10,785.7 L746.54,788.3 L746.97,785.6 L747.40,787.7 L747.83,786.9 L748.27,788.5 L748.70,788.4 L749.13,787.9 L749.57,786.3 L750.00,788.8 L750.43,786.8 L750.87,786.2 L751.30,785.7 L751.73,785.7 L752.17,786.5 L752.60,785.4 L753.03,786.1 L753.46,788.8 L753.90,786.1 L754.33,786.6 L754.76,785.2 L755.20,788.5 L755.63,785.1 L756.06,786.0 L756.50,784.9 L756.93,785.9 L757.36,786.6 L757.80,784.7 L758.23,785.5 L758.66,787.0 L759.09,783.4 L759.53,784.0 L759.96,783.2 L760.39,784.5 L760.63,790.8"/>
</g>
<circle cx="939" cy="250" r="0.9" fill="#555"/>
<g transform="translate(819.4,868.6) skewX(-8) scale(1.27,1)" opacity="0.95"><text class="wm" x="0" y="0">聚集网</text></g>
</svg>
</body>
</html>
